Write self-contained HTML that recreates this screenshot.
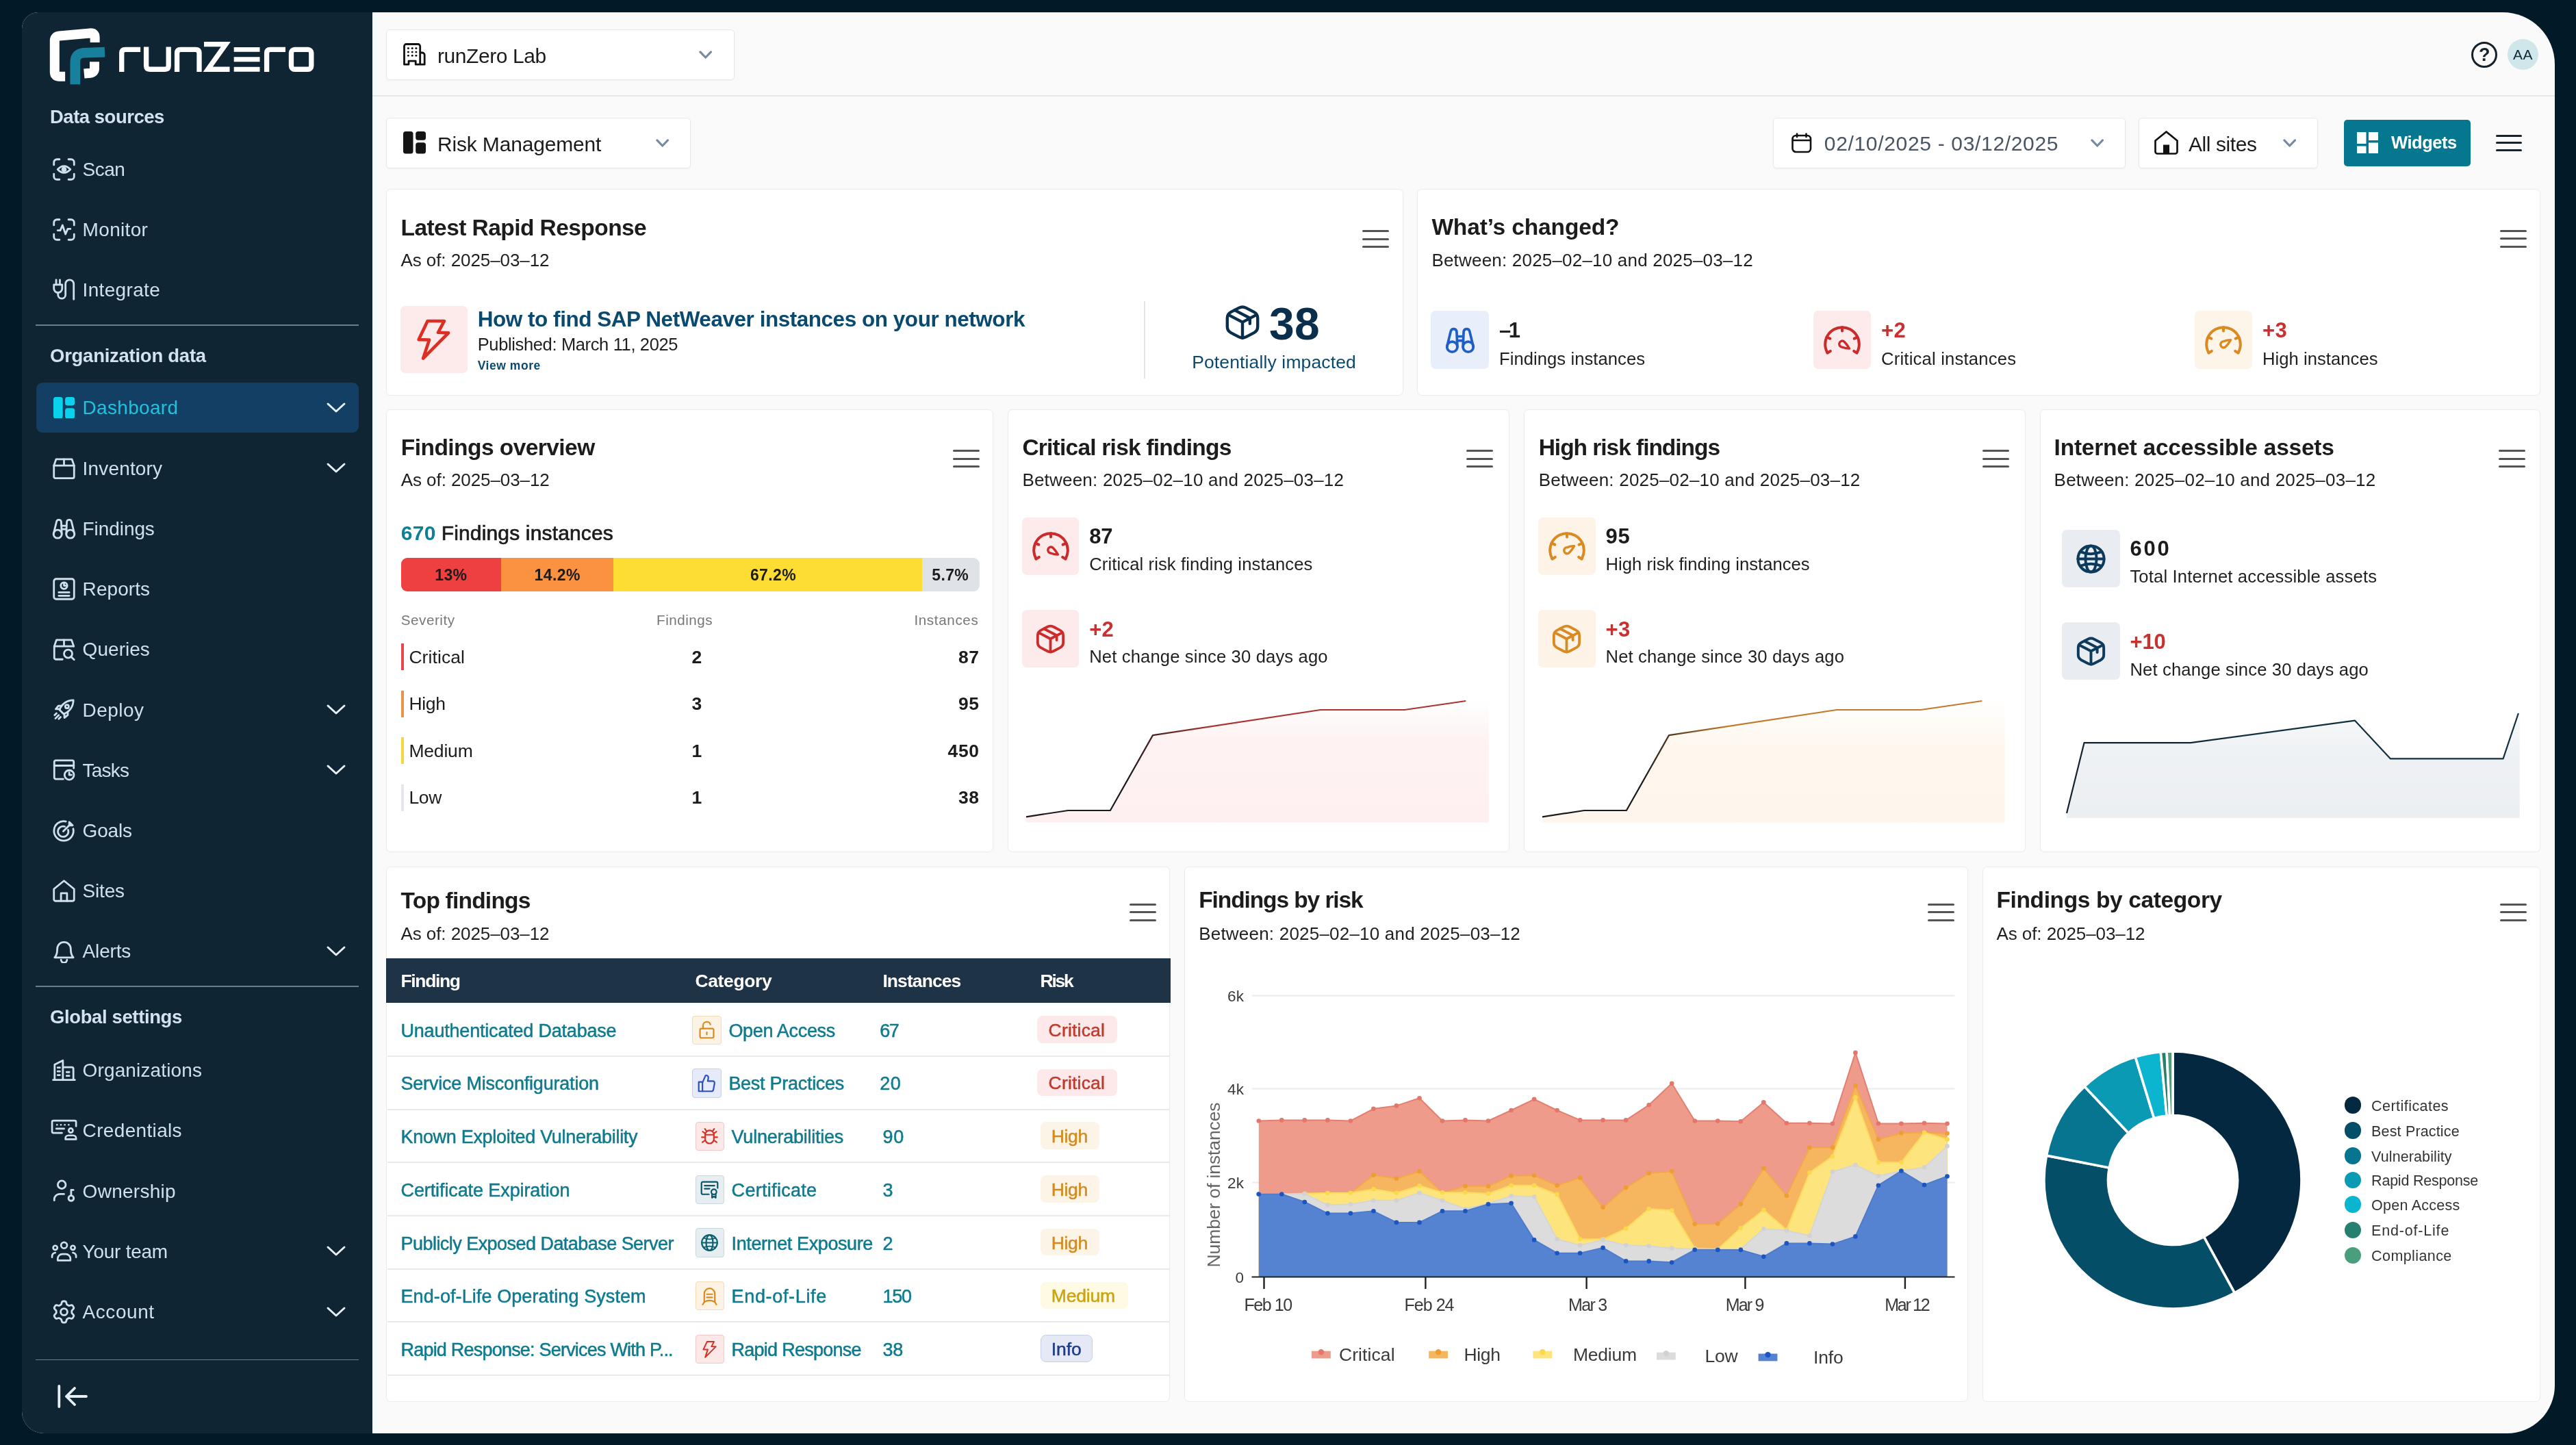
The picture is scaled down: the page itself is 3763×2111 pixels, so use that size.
<!DOCTYPE html>
<html><head><meta charset="utf-8"><title>runZero</title>
<style>
html,body{margin:0;padding:0}
body{width:3763px;height:2111px;background:#021a27;overflow:hidden;position:relative;font-family:"Liberation Sans",sans-serif}
.t{position:absolute;white-space:nowrap}
.b{position:absolute;box-sizing:border-box}
#win{position:absolute;left:32px;top:17.5px;width:3700px;height:2076px;border-radius:24px 76px 70px 32px;overflow:hidden;background:#fafafa}
#in{position:absolute;left:-32px;top:-17.5px;width:3763px;height:2111px;will-change:transform}
.card{position:absolute;box-sizing:border-box;background:#fff;border:1.7px solid #ececec;border-radius:7px;box-shadow:0 0 2px rgba(0,0,0,.03)}
.dd{position:absolute;box-sizing:border-box;background:#fff;border:1.5px solid #e6e7ea;border-radius:5px;box-shadow:0 1px 2px rgba(0,0,0,.04)}
</style></head><body><div id="win"><div id="in">
<div class="b" style="left:32.0px;top:17.0px;width:512.0px;height:2080.0px;background:#0f2533;"></div>
<svg class="b" style="left:60.0px;top:30.0px;" width="420.0" height="110.0" viewBox="0 0 2576 675"><g fill="none" stroke-linejoin="round"><path d="M215 502H162Q121 502 121 461V180Q121 142 162 138L438 113Q482 109 482 150V196" stroke="#fff" stroke-width="86"/><path d="M385 476L440 471Q478 467 478 430V370" stroke="#fff" stroke-width="86"/><path d="M305 572V372Q305 296 380 290L570 283" stroke="#17809c" stroke-width="90"/></g><g fill="none" stroke="#fff" stroke-width="45" stroke-linejoin="round"><path d="M722 460V292Q722 260 754 260H890"/><path d="M942 237V405Q942 437 974 437H1110Q1142 437 1142 405V237"/><path d="M1218 460V292Q1218 260 1250 260H1385Q1417 260 1417 292V460"/><path d="M1460 212H1655L1495 437H1690" stroke-linejoin="miter"/><path d="M1728 260H1960M1728 348H1960M1728 437H1960" stroke-width="42"/><path d="M2022 460V292Q2022 260 2054 260H2190"/><rect x="2242" y="260" width="180" height="177" rx="30"/></g></svg>
<div class="t" style="left:73.0px;top:156.7px;font-size:27.50px;line-height:27.50px;font-weight:bold;color:#d3e2ee;letter-spacing:-0.49px;">Data sources</div>
<div class="t" style="left:73.0px;top:505.7px;font-size:27.50px;line-height:27.50px;font-weight:bold;color:#d3e2ee;letter-spacing:-0.26px;">Organization data</div>
<div class="t" style="left:73.0px;top:1471.7px;font-size:27.50px;line-height:27.50px;font-weight:bold;color:#d3e2ee;letter-spacing:-0.38px;">Global settings</div>
<div class="b" style="left:52.0px;top:474.3px;width:471.5px;height:1.5px;background:#647f8e;"></div>
<div class="b" style="left:52.0px;top:1440.3px;width:471.5px;height:1.5px;background:#647f8e;"></div>
<div class="b" style="left:52.0px;top:1985.8px;width:471.5px;height:1.5px;background:#647f8e;"></div>
<div class="b" style="left:52.6px;top:559.3px;width:471.0px;height:72.6px;background:#123f63;border-radius:9px;"></div>
<svg class="b" style="left:75.7px;top:229.5px;color:#cfe0ec;" width="35.0" height="35.0" viewBox="0 0 32 32"><g fill="none" stroke="#cfe0ec" stroke-width="2.55" stroke-linecap="round" stroke-linejoin="round"><path d="M2.5 10V6.5a4 4 0 0 1 4-4H10"/><path d="M22 2.5h3.5a4 4 0 0 1 4 4V10"/><path d="M29.5 22v3.5a4 4 0 0 1-4 4H22"/><path d="M10 29.5H6.5a4 4 0 0 1-4-4V22"/><path d="M7.5 16Q16 7 24.5 16Q16 25 7.5 16Z"/><circle cx="16" cy="16" r="2.2" fill="currentColor"/></g></svg>
<div class="t" style="left:120.6px;top:233.9px;font-size:28.00px;line-height:28.00px;color:#cfe0ec;letter-spacing:-0.53px;">Scan</div>
<svg class="b" style="left:75.7px;top:317.5px;color:#cfe0ec;" width="35.0" height="35.0" viewBox="0 0 32 32"><g fill="none" stroke="#cfe0ec" stroke-width="2.55" stroke-linecap="round" stroke-linejoin="round"><path d="M2.5 10V6.5a4 4 0 0 1 4-4H10"/><path d="M22 2.5h3.5a4 4 0 0 1 4 4V10"/><path d="M29.5 22v3.5a4 4 0 0 1-4 4H22"/><path d="M10 29.5H6.5a4 4 0 0 1-4-4V22"/><path d="M7.5 17H11l3-7 4 12 3-7h3.5"/></g></svg>
<div class="t" style="left:120.6px;top:321.9px;font-size:28.00px;line-height:28.00px;color:#cfe0ec;letter-spacing:0.33px;">Monitor</div>
<svg class="b" style="left:75.7px;top:405.3px;color:#cfe0ec;" width="35.0" height="35.0" viewBox="0 0 32 32"><g fill="none" stroke="#cfe0ec" stroke-width="2.55" stroke-linecap="round" stroke-linejoin="round"><path d="M2.5 10h11v5a5.5 5.5 0 0 1-11 0z"/><path d="M5.5 3.5V10M10.5 3.5V10"/><path d="M8 20.5v3a5 5 0 0 0 10 0V9a5.5 5.5 0 0 1 11 0v20.5"/></g></svg>
<div class="t" style="left:120.6px;top:409.7px;font-size:28.00px;line-height:28.00px;color:#cfe0ec;letter-spacing:0.33px;">Integrate</div>
<svg class="b" style="left:77.7px;top:579.9px;" width="31.2" height="31.6" viewBox="0 0 31.200 31.600"><g fill="#0ad1ec"><rect x="0" y="0" width="13.700" height="31.600" rx="3.500"/><rect x="17.100" y="0" width="14.100" height="12.400" rx="3.500"/><rect x="17.100" y="16.200" width="14.100" height="15.400" rx="3.500"/></g></svg>
<div class="t" style="left:120.6px;top:582.3px;font-size:28.00px;line-height:28.00px;color:#1fc3de;letter-spacing:0.31px;">Dashboard</div>
<svg class="b" style="left:474.5px;top:578.7px;color:#e6eff5;" width="32.0" height="32.0" viewBox="0 0 32 32"><g fill="none" stroke="#e6eff5" stroke-width="3.00" stroke-linecap="round" stroke-linejoin="round"><path d="M4 11l12 11 12-11"/></g></svg>
<svg class="b" style="left:75.7px;top:666.6px;color:#cfe0ec;" width="35.0" height="35.0" viewBox="0 0 32 32"><g fill="none" stroke="#cfe0ec" stroke-width="2.55" stroke-linecap="round" stroke-linejoin="round"><path d="M2.5 12l3-8.5h21l3 8.5v15a2 2 0 0 1-2 2h-23a2 2 0 0 1-2-2z"/><path d="M2.5 12h27M16 3.5V12"/></g></svg>
<div class="t" style="left:120.6px;top:671.0px;font-size:28.00px;line-height:28.00px;color:#cfe0ec;letter-spacing:0.16px;">Inventory</div>
<svg class="b" style="left:474.5px;top:667.4px;color:#e6eff5;" width="32.0" height="32.0" viewBox="0 0 32 32"><g fill="none" stroke="#e6eff5" stroke-width="3.00" stroke-linecap="round" stroke-linejoin="round"><path d="M4 11l12 11 12-11"/></g></svg>
<svg class="b" style="left:75.7px;top:754.5px;color:#cfe0ec;" width="35.0" height="35.0" viewBox="0 0 32 32"><g fill="none" stroke="#cfe0ec" stroke-width="2.55" stroke-linecap="round" stroke-linejoin="round"><circle cx="7.5" cy="23" r="5.5"/><circle cx="24.5" cy="23" r="5.5"/><path d="M2 23L6 6.5a3.2 3.2 0 0 1 6.300 0.500L13 23M30 23L26 6.500a3.200 3.200 0 0 0-6.300 0.500L19 23"/><path d="M12.800 12h6.400M12.900 16.500h6.200"/></g></svg>
<div class="t" style="left:120.6px;top:758.9px;font-size:28.00px;line-height:28.00px;color:#cfe0ec;letter-spacing:-0.08px;">Findings</div>
<svg class="b" style="left:75.7px;top:842.7px;color:#cfe0ec;" width="35.0" height="35.0" viewBox="0 0 32 32"><g fill="none" stroke="#cfe0ec" stroke-width="2.55" stroke-linecap="round" stroke-linejoin="round"><rect x="2.500" y="2.500" width="27" height="27" rx="3"/><circle cx="16" cy="11.500" r="4.300"/><path d="M16 9v2.500h2.500M9 20.500h14M9 25h14"/></g></svg>
<div class="t" style="left:120.6px;top:847.1px;font-size:28.00px;line-height:28.00px;color:#cfe0ec;letter-spacing:0.08px;">Reports</div>
<svg class="b" style="left:75.7px;top:930.9px;color:#cfe0ec;" width="35.0" height="35.0" viewBox="0 0 32 32"><g fill="none" stroke="#cfe0ec" stroke-width="2.55" stroke-linecap="round" stroke-linejoin="round"><path d="M14 29.500H5a2 2 0 0 1-2-2V12l3-8.500h20l3 8.500"/><path d="M3 12h26M16 3.500V12"/><circle cx="21.500" cy="22" r="5.500"/><path d="M25.500 26l4 4"/></g></svg>
<div class="t" style="left:120.6px;top:935.3px;font-size:28.00px;line-height:28.00px;color:#cfe0ec;letter-spacing:0.04px;">Queries</div>
<svg class="b" style="left:75.7px;top:1019.1px;color:#cfe0ec;" width="35.0" height="35.0" viewBox="0 0 32 32"><g fill="none" stroke="#cfe0ec" stroke-width="2.55" stroke-linecap="round" stroke-linejoin="round"><path d="M28.500 3.500C20 3.500 13 8.500 10 16.500l5.500 5.500C23.500 19 28.500 12 28.500 3.500z"/><circle cx="20" cy="12" r="2.300"/><path d="M10.500 15.500H5l3.500-4.500h4.500M16.500 21.500V27l4.500-3.500v-4.500"/><path d="M6 21l-2.500 2.500M9 23.500L4.500 28M11.500 26L9 28.500"/></g></svg>
<div class="t" style="left:120.6px;top:1023.5px;font-size:28.00px;line-height:28.00px;color:#cfe0ec;letter-spacing:0.47px;">Deploy</div>
<svg class="b" style="left:474.5px;top:1019.9px;color:#e6eff5;" width="32.0" height="32.0" viewBox="0 0 32 32"><g fill="none" stroke="#e6eff5" stroke-width="3.00" stroke-linecap="round" stroke-linejoin="round"><path d="M4 11l12 11 12-11"/></g></svg>
<svg class="b" style="left:75.7px;top:1107.3px;color:#cfe0ec;" width="35.0" height="35.0" viewBox="0 0 32 32"><g fill="none" stroke="#cfe0ec" stroke-width="2.55" stroke-linecap="round" stroke-linejoin="round"><path d="M15 28.500H5a2 2 0 0 1-2-2V5.500a2 2 0 0 1 2-2h22a2 2 0 0 1 2 2V14"/><path d="M3 10.500h26"/><circle cx="23" cy="23" r="6.300"/><path d="M23 19.800V23h3"/></g></svg>
<div class="t" style="left:120.6px;top:1111.7px;font-size:28.00px;line-height:28.00px;color:#cfe0ec;letter-spacing:-0.81px;">Tasks</div>
<svg class="b" style="left:474.5px;top:1108.1px;color:#e6eff5;" width="32.0" height="32.0" viewBox="0 0 32 32"><g fill="none" stroke="#e6eff5" stroke-width="3.00" stroke-linecap="round" stroke-linejoin="round"><path d="M4 11l12 11 12-11"/></g></svg>
<svg class="b" style="left:75.7px;top:1195.5px;color:#cfe0ec;" width="35.0" height="35.0" viewBox="0 0 32 32"><g fill="none" stroke="#cfe0ec" stroke-width="2.55" stroke-linecap="round" stroke-linejoin="round"><path d="M28.300 13.500A13 13 0 1 1 18.500 3.700"/><path d="M21.500 15A7 7 0 1 1 17 10.500"/><path d="M15 17l8-8M23 9V4.500l4.500 4.500zM23 9h4.500" /></g></svg>
<div class="t" style="left:120.6px;top:1199.9px;font-size:28.00px;line-height:28.00px;color:#cfe0ec;letter-spacing:-0.17px;">Goals</div>
<svg class="b" style="left:75.7px;top:1283.7px;color:#cfe0ec;" width="35.0" height="35.0" viewBox="0 0 32 32"><g fill="none" stroke="#cfe0ec" stroke-width="2.55" stroke-linecap="round" stroke-linejoin="round"><path d="M2.500 13.500L16 2.500l13.500 11v14a2 2 0 0 1-2 2h-23a2 2 0 0 1-2-2z"/><path d="M12 29.500V19h8v10.500"/></g></svg>
<div class="t" style="left:120.6px;top:1288.1px;font-size:28.00px;line-height:28.00px;color:#cfe0ec;letter-spacing:-0.19px;">Sites</div>
<svg class="b" style="left:75.7px;top:1371.9px;color:#cfe0ec;" width="35.0" height="35.0" viewBox="0 0 32 32"><g fill="none" stroke="#cfe0ec" stroke-width="2.55" stroke-linecap="round" stroke-linejoin="round"><path d="M3.500 24.500c3-3 3.500-6 3.500-11.500a9 9 0 0 1 18 0c0 5.500 0.500 8.500 3.500 11.500z"/><path d="M12 27.500a4 4 0 0 0 8 0"/></g></svg>
<div class="t" style="left:120.6px;top:1376.3px;font-size:28.00px;line-height:28.00px;color:#cfe0ec;letter-spacing:-0.16px;">Alerts</div>
<svg class="b" style="left:474.5px;top:1372.7px;color:#e6eff5;" width="32.0" height="32.0" viewBox="0 0 32 32"><g fill="none" stroke="#e6eff5" stroke-width="3.00" stroke-linecap="round" stroke-linejoin="round"><path d="M4 11l12 11 12-11"/></g></svg>
<svg class="b" style="left:75.7px;top:1545.9px;color:#cfe0ec;" width="35.0" height="35.0" viewBox="0 0 32 32"><g fill="none" stroke="#cfe0ec" stroke-width="2.55" stroke-linecap="round" stroke-linejoin="round"><path d="M3.500 29V8.500L14.500 3v26M14.500 12h12a2 2 0 0 1 2 2v15M1.500 29h29"/><path d="M7.500 12.500h3M7.500 17.500h3M7.500 22.500h3M19.500 18.500h3.500M19.500 23.500h3.500"/></g></svg>
<div class="t" style="left:120.6px;top:1550.3px;font-size:28.00px;line-height:28.00px;color:#cfe0ec;letter-spacing:0.13px;">Organizations</div>
<svg class="b" style="left:73.6px;top:1633.9px;color:#cfe0ec;" width="39.2" height="33.0" viewBox="0 0 38 32"><g fill="none" stroke="#cfe0ec" stroke-width="2.60" stroke-linecap="round" stroke-linejoin="round"><path d="M16 20.500H4a2 2 0 0 1-2-2V5a2 2 0 0 1 2-2h30a2 2 0 0 1 2 2v6"/><path d="M9 9h.1M14.500 9h.1M20 9h.1M25.500 9h.1M8 14.500h11"/><circle cx="28.500" cy="17" r="3"/><path d="M21 29.500v-1.500a4 4 0 0 1 4-4h7a4 4 0 0 1 4 4v1.500z"/></g></svg>
<div class="t" style="left:120.6px;top:1637.8px;font-size:28.00px;line-height:28.00px;color:#cfe0ec;letter-spacing:0.34px;">Credentials</div>
<svg class="b" style="left:75.7px;top:1722.3px;color:#cfe0ec;" width="35.0" height="35.0" viewBox="0 0 32 32"><g fill="none" stroke="#cfe0ec" stroke-width="2.55" stroke-linecap="round" stroke-linejoin="round"><circle cx="13" cy="8" r="5.300"/><path d="M3 29v-1.500a7 7 0 0 1 7-7h6"/><circle cx="25.500" cy="26" r="3.500"/><path d="M25.500 22.500V15h3"/></g></svg>
<div class="t" style="left:120.6px;top:1726.7px;font-size:28.00px;line-height:28.00px;color:#cfe0ec;letter-spacing:0.28px;">Ownership</div>
<svg class="b" style="left:73.6px;top:1811.0px;color:#cfe0ec;" width="39.2" height="33.0" viewBox="0 0 38 32"><g fill="none" stroke="#cfe0ec" stroke-width="2.60" stroke-linecap="round" stroke-linejoin="round"><circle cx="19" cy="8" r="4.300"/><path d="M10 29.500V27a6.500 6.500 0 0 1 6.500-6.500h5a6.500 6.500 0 0 1 6.500 6.500v2.500z"/><circle cx="6.500" cy="11.500" r="3"/><path d="M2 25v-1.500a5 5 0 0 1 4.500-5"/><circle cx="31.500" cy="11.500" r="3"/><path d="M36 25v-1.500a5 5 0 0 0-4.500-5"/></g></svg>
<div class="t" style="left:120.6px;top:1814.9px;font-size:28.00px;line-height:28.00px;color:#cfe0ec;letter-spacing:-0.26px;">Your team</div>
<svg class="b" style="left:474.5px;top:1811.3px;color:#e6eff5;" width="32.0" height="32.0" viewBox="0 0 32 32"><g fill="none" stroke="#e6eff5" stroke-width="3.00" stroke-linecap="round" stroke-linejoin="round"><path d="M4 11l12 11 12-11"/></g></svg>
<svg class="b" style="left:75.7px;top:1898.7px;color:#cfe0ec;" width="35.0" height="35.0" viewBox="0 0 32 32"><g fill="none" stroke="#cfe0ec" stroke-width="2.55" stroke-linecap="round" stroke-linejoin="round"><path d="M28.30 23.10L27.81 23.89L27.27 24.64L26.23 24.97L24.70 24.70L23.25 24.26L22.33 24.25L21.78 24.65L21.20 25.01L20.60 25.33L19.98 25.61L19.53 26.41L19.18 27.88L18.65 29.35L17.85 30.08L16.93 30.17L16.00 30.20L15.07 30.17L14.15 30.08L13.35 29.35L12.82 27.88L12.47 26.41L12.02 25.61L11.40 25.33L10.80 25.01L10.22 24.65L9.67 24.25L8.75 24.26L7.30 24.70L5.77 24.97L4.73 24.64L4.19 23.89L3.70 23.10L3.26 22.28L2.88 21.43L3.11 20.37L4.12 19.18L5.22 18.14L5.69 17.36L5.62 16.68L5.60 16.00L5.62 15.32L5.69 14.64L5.22 13.86L4.12 12.82L3.11 11.63L2.88 10.57L3.26 9.72L3.70 8.90L4.19 8.11L4.73 7.36L5.77 7.03L7.30 7.30L8.75 7.74L9.67 7.75L10.22 7.35L10.80 6.99L11.40 6.67L12.02 6.39L12.47 5.59L12.82 4.12L13.35 2.65L14.15 1.92L15.07 1.83L16.00 1.80L16.93 1.83L17.85 1.92L18.65 2.65L19.18 4.12L19.53 5.59L19.98 6.39L20.60 6.67L21.20 6.99L21.78 7.35L22.33 7.75L23.25 7.74L24.70 7.30L26.23 7.03L27.27 7.36L27.81 8.11L28.30 8.90L28.74 9.72L29.12 10.57L28.89 11.63L27.88 12.82L26.78 13.86L26.31 14.64L26.38 15.32L26.40 16.00L26.38 16.68L26.31 17.36L26.78 18.14L27.88 19.18L28.89 20.37L29.12 21.43L28.74 22.28z"/><circle cx="16" cy="16" r="4.500"/></g></svg>
<div class="t" style="left:120.6px;top:1903.1px;font-size:28.00px;line-height:28.00px;color:#cfe0ec;letter-spacing:0.55px;">Account</div>
<svg class="b" style="left:474.5px;top:1899.5px;color:#e6eff5;" width="32.0" height="32.0" viewBox="0 0 32 32"><g fill="none" stroke="#e6eff5" stroke-width="3.00" stroke-linecap="round" stroke-linejoin="round"><path d="M4 11l12 11 12-11"/></g></svg>
<svg class="b" style="left:80.0px;top:2020.0px;" width="52.0" height="40.0" viewBox="0 0 52 40"><path d="M6.300 5V35M46 20H17M29 8L17 20L29 32" fill="none" stroke="#e6eff5" stroke-width="3.800" stroke-linecap="round" stroke-linejoin="round"/></svg>
<div class="b" style="left:544.0px;top:17.0px;width:9.0px;height:2080.0px;background:linear-gradient(to right,#eefbfe,#fafafa);"></div>
<div class="b" style="left:544.0px;top:138.5px;width:3190.0px;height:2.0px;background:#e6e6e8;"></div>
<div class="dd" style="left:564.0px;top:43.0px;width:508.5px;height:73.5px"></div>
<svg class="b" style="left:588.9px;top:63.3px;" width="32.7" height="32.7" viewBox="0 0 32.700 32.700"><g fill="none" stroke="#111" stroke-width="2.800" stroke-linejoin="round" stroke-linecap="round"><path d="M8 31.200H1.500V4.500a3 3 0 0 1 3-3H21.700a3 3 0 0 1 3 3V31.200M18.200 31.200H31.200V17.500a3.500 3.500 0 0 0-3.500-3.500H24.700M8 31.200V26.200H18.200V31.200"/></g><g fill="#111"><circle cx="7.4" cy="7.4" r="1.500"/><circle cx="7.4" cy="12.9" r="1.500"/><circle cx="7.4" cy="18.3" r="1.500"/><circle cx="13.2" cy="7.4" r="1.500"/><circle cx="13.2" cy="12.9" r="1.500"/><circle cx="13.2" cy="18.3" r="1.500"/><circle cx="18.9" cy="7.4" r="1.500"/><circle cx="18.9" cy="12.9" r="1.500"/><circle cx="18.9" cy="18.3" r="1.500"/></g></svg>
<div class="t" style="left:639.0px;top:67.0px;font-size:30.00px;line-height:30.00px;color:#1b1b1b;letter-spacing:-0.42px;">runZero Lab</div>
<svg class="b" style="left:1021.3px;top:73.8px;" width="19.4" height="12.4" viewBox="0 0 19.400 12.400"><path d="M1.900 1.900L9.700 10L17.500 1.900" fill="none" stroke="#7888a0" stroke-width="3.100" stroke-linecap="round" stroke-linejoin="round"/></svg>
<div class="dd" style="left:564.0px;top:172.0px;width:445.0px;height:73.5px"></div>
<svg class="b" style="left:588.8px;top:192.2px;" width="33.0" height="32.5" viewBox="0 0 33 32.500"><g fill="#141414"><rect x="0" y="0" width="14.500" height="32.500" rx="3.500"/><rect x="18.200" y="0" width="14.800" height="12.700" rx="3.500"/><rect x="18.200" y="16.300" width="14.800" height="16.200" rx="3.500"/></g></svg>
<div class="t" style="left:639.0px;top:196.1px;font-size:30.00px;line-height:30.00px;color:#1b1b1b;letter-spacing:-0.17px;">Risk Management</div>
<svg class="b" style="left:958.3px;top:202.6px;" width="19.4" height="12.4" viewBox="0 0 19.400 12.400"><path d="M1.900 1.900L9.700 10L17.500 1.900" fill="none" stroke="#7888a0" stroke-width="3.100" stroke-linecap="round" stroke-linejoin="round"/></svg>
<div class="dd" style="left:2590.0px;top:172.0px;width:515.0px;height:73.5px"></div>
<svg class="b" style="left:2617.0px;top:194.0px;" width="30.0" height="30.0" viewBox="0 0 30 30"><g fill="none" stroke="#111" stroke-width="2.600" stroke-linecap="round"><rect x="1.500" y="4" width="26.500" height="24" rx="5"/><path d="M2 11h25.500M8 1.500V6M21.500 1.500V6"/></g></svg>
<div class="t" style="left:2664.8px;top:194.9px;font-size:30.00px;line-height:30.00px;color:#4a5563;letter-spacing:0.67px;">02/10/2025 - 03/12/2025</div>
<svg class="b" style="left:3054.0px;top:203.3px;" width="19.4" height="12.4" viewBox="0 0 19.400 12.400"><path d="M1.900 1.900L9.700 10L17.500 1.900" fill="none" stroke="#7888a0" stroke-width="3.100" stroke-linecap="round" stroke-linejoin="round"/></svg>
<div class="dd" style="left:3123.5px;top:172.0px;width:262.0px;height:73.5px"></div>
<svg class="b" style="left:3146.0px;top:190.0px;" width="37.0" height="37.0" viewBox="0 0 37 37"><path d="M2.500 15.500L18.500 2.500l16 13v16a3 3 0 0 1-3 3h-26a3 3 0 0 1-3-3z" fill="none" stroke="#111" stroke-width="2.700" stroke-linejoin="round"/><rect x="14" y="21.500" width="9" height="13" fill="#111"/></svg>
<div class="t" style="left:3197.0px;top:196.1px;font-size:30.00px;line-height:30.00px;color:#1b1b1b;letter-spacing:-0.42px;">All sites</div>
<svg class="b" style="left:3334.8px;top:202.6px;" width="19.4" height="12.4" viewBox="0 0 19.400 12.400"><path d="M1.900 1.900L9.700 10L17.500 1.900" fill="none" stroke="#7888a0" stroke-width="3.100" stroke-linecap="round" stroke-linejoin="round"/></svg>
<div class="b" style="left:3424.0px;top:174.5px;width:185.0px;height:68.0px;background:#05788f;border-radius:5px;"></div>
<svg class="b" style="left:3442.5px;top:193.0px;" width="31.5" height="31.0" viewBox="0 0 31.500 31"><g fill="#fff"><rect x="0" y="0" width="13.500" height="17"/><rect x="17" y="0" width="14.500" height="12"/><rect x="0" y="20.500" width="13.500" height="10.500"/><rect x="17" y="15.500" width="14.500" height="15.500"/></g></svg>
<div class="t" style="left:3493.0px;top:195.9px;font-size:25.50px;line-height:25.50px;font-weight:bold;color:#fff;letter-spacing:-0.45px;">Widgets</div>
<div class="b" style="left:3645.5px;top:196.5px;width:38.0px;height:3.2px;background:#18222c;border-radius:1.500px;"></div>
<div class="b" style="left:3645.5px;top:207.3px;width:38.0px;height:3.2px;background:#18222c;border-radius:1.500px;"></div>
<div class="b" style="left:3645.5px;top:218.1px;width:38.0px;height:3.2px;background:#18222c;border-radius:1.500px;"></div>
<svg class="b" style="left:3608.0px;top:58.5px;" width="42.0" height="42.0" viewBox="0 0 42 42"><circle cx="21" cy="21" r="17.500" fill="none" stroke="#15212b" stroke-width="3"/></svg>
<div class="t" style="left:3621.1px;top:66.6px;font-size:27.00px;line-height:27.00px;font-weight:bold;color:#15212b;letter-spacing:0.00px;">?</div>
<div class="b" style="left:3662.5px;top:56.5px;width:45.5px;height:45.5px;background:#cfe6ea;border-radius:50%;"></div>
<div class="t" style="left:3671.1px;top:69.2px;font-size:21.00px;line-height:21.00px;color:#0f2a3a;letter-spacing:0.30px;">AA</div>
<div class="card" style="left:563.8px;top:276.0px;width:1486.2px;height:301.5px"></div>
<div class="t" style="left:585.5px;top:316.4px;font-size:33.50px;line-height:33.50px;font-weight:bold;color:#1c1c1c;letter-spacing:-0.56px;">Latest Rapid Response</div>
<div class="t" style="left:585.5px;top:366.8px;font-size:26.00px;line-height:26.00px;color:#1f1f1f;letter-spacing:-0.08px;">As of: 2025–03–12</div>
<div class="b" style="left:1990.0px;top:336.3px;width:39.0px;height:3.0px;background:#555;border-radius:1.500px;"></div>
<div class="b" style="left:1990.0px;top:347.7px;width:39.0px;height:3.0px;background:#555;border-radius:1.500px;"></div>
<div class="b" style="left:1990.0px;top:359.1px;width:39.0px;height:3.0px;background:#555;border-radius:1.500px;"></div>
<div class="b" style="left:584.7px;top:447.4px;width:98.0px;height:98.0px;background:#fdeaea;border-radius:7px;"></div>
<svg class="b" style="left:601.3px;top:464.0px;color:#dc2f24;" width="64.6" height="64.6" viewBox="0 0 32 32"><g fill="none" stroke="#dc2f24" stroke-width="2.30" stroke-linecap="round" stroke-linejoin="round"><path d="M11.7 2.5H23.7L19.3 10.8L26.8 11.1L8.5 29.5L12.9 16.1L5.3 15.9z"/></g></svg>
<div class="t" style="left:697.7px;top:450.8px;font-size:31.50px;line-height:31.50px;font-weight:bold;color:#0b4a6f;letter-spacing:-0.47px;">How to find SAP NetWeaver instances on your network</div>
<div class="t" style="left:697.7px;top:491.0px;font-size:25.50px;line-height:25.50px;color:#1f1f1f;letter-spacing:-0.36px;">Published: March 11, 2025</div>
<div class="t" style="left:697.7px;top:525.5px;font-size:17.50px;line-height:17.50px;font-weight:bold;color:#0b4a6f;letter-spacing:0.55px;">View more</div>
<div class="b" style="left:1671.0px;top:439.7px;width:2.0px;height:113.0px;background:#e4e4e4;"></div>
<svg class="b" style="left:1787.0px;top:443.0px;color:#0a2f4d;" width="56.0" height="56.0" viewBox="0 0 32 32"><g fill="none" stroke="#0a2f4d" stroke-width="2.50" stroke-linecap="round" stroke-linejoin="round"><path d="M12.95 3.91Q16.00 2.30 19.05 3.91L25.65 7.39Q28.70 9.00 28.70 12.36L28.70 19.64Q28.70 23.00 25.65 24.61L19.05 28.09Q16.00 29.70 12.95 28.09L6.35 24.61Q3.30 23.00 3.30 19.64L3.30 12.36Q3.30 9.00 6.35 7.39z"/><path d="M4.500 9.800L16 15.800 27.500 9.800M16 15.800v13.200M9.500 5.800l12.700 6.600v4.600"/></g></svg>
<div class="t" style="left:1854.0px;top:439.6px;font-size:66.00px;line-height:66.00px;font-weight:bold;color:#0a2f4d;letter-spacing:0.29px;">38</div>
<div class="t" style="left:1741.2px;top:516.3px;font-size:26.50px;line-height:26.50px;color:#0b4a6f;letter-spacing:0.13px;">Potentially impacted</div>
<div class="card" style="left:2070.2px;top:276.0px;width:1640.8px;height:301.5px"></div>
<div class="t" style="left:2091.4px;top:315.2px;font-size:33.50px;line-height:33.50px;font-weight:bold;color:#1c1c1c;letter-spacing:-0.14px;">What’s changed?</div>
<div class="t" style="left:2091.4px;top:367.1px;font-size:26.00px;line-height:26.00px;color:#1f1f1f;letter-spacing:0.20px;">Between: 2025–02–10 and 2025–03–12</div>
<div class="b" style="left:3651.8px;top:336.0px;width:39.0px;height:3.0px;background:#555;border-radius:1.500px;"></div>
<div class="b" style="left:3651.8px;top:347.4px;width:39.0px;height:3.0px;background:#555;border-radius:1.500px;"></div>
<div class="b" style="left:3651.8px;top:358.8px;width:39.0px;height:3.0px;background:#555;border-radius:1.500px;"></div>
<div class="b" style="left:2090.3px;top:454.4px;width:84.4px;height:84.4px;background:#e9eefb;border-radius:7px;"></div>
<svg class="b" style="left:2110.5px;top:475.0px;color:#1f5fc4;" width="44.0" height="44.0" viewBox="0 0 32 32"><g fill="none" stroke="#1f5fc4" stroke-width="2.70" stroke-linecap="round" stroke-linejoin="round"><circle cx="7.5" cy="23" r="5.5"/><circle cx="24.5" cy="23" r="5.5"/><path d="M2 23L6 6.5a3.2 3.2 0 0 1 6.300 0.500L13 23M30 23L26 6.500a3.200 3.200 0 0 0-6.300 0.500L19 23"/><path d="M12.800 12h6.400M12.900 16.500h6.200"/></g></svg>
<div class="t" style="left:2190.0px;top:466.7px;font-size:31.00px;line-height:31.00px;font-weight:bold;color:#222;letter-spacing:-3.49px;">–1</div>
<div class="t" style="left:2190.0px;top:511.5px;font-size:25.60px;line-height:25.60px;color:#1f1f1f;letter-spacing:0.06px;">Findings instances</div>
<div class="b" style="left:2648.5px;top:454.4px;width:84.4px;height:84.4px;background:#fdeaea;border-radius:7px;"></div>
<svg class="b" style="left:2660.7px;top:466.6px;" width="60.0" height="60.0" viewBox="0 0 60 60"><g fill="none" stroke="#cc2b2b" stroke-width="4" stroke-linecap="round" stroke-linejoin="round"><path d="M8.500 48.400A24.800 24.800 0 1 1 51.500 48.400"/><path d="M8.500 48.400l4.300-2.500M51.500 48.400l-4.300-2.500M30 11.200v5.200M7.600 25.600l4.700 2M52.400 25.600l-4.700 2"/><path d="M40.400 42.100Q36 34.500 32 31.300A4.600 4.600 0 1 0 30.500 40.200Q35.500 42.300 40.400 42.100z" stroke-width="3.400"/></g></svg>
<div class="t" style="left:2748.0px;top:466.7px;font-size:31.00px;line-height:31.00px;font-weight:bold;color:#c93030;letter-spacing:0.33px;">+2</div>
<div class="t" style="left:2748.0px;top:511.5px;font-size:25.60px;line-height:25.60px;color:#1f1f1f;letter-spacing:0.21px;">Critical instances</div>
<div class="b" style="left:3205.7px;top:454.4px;width:84.4px;height:84.4px;background:#fdf4ea;border-radius:7px;"></div>
<svg class="b" style="left:3217.6px;top:466.6px;" width="60.0" height="60.0" viewBox="0 0 60 60"><g fill="none" stroke="#d98a21" stroke-width="4" stroke-linecap="round" stroke-linejoin="round"><path d="M8.500 48.400A24.800 24.800 0 1 1 51.500 48.400"/><path d="M8.500 48.400l4.300-2.500M51.500 48.400l-4.300-2.500M30 11.200v5.200M7.600 25.600l4.700 2M52.400 25.600l-4.700 2"/><path d="M40.600 29.600Q36 37.500 32 40.500A4.600 4.600 0 1 1 30.500 31.600Q35.500 29.500 40.600 29.600z" stroke-width="3.400"/></g></svg>
<div class="t" style="left:3305.0px;top:466.7px;font-size:31.00px;line-height:31.00px;font-weight:bold;color:#c93030;letter-spacing:0.33px;">+3</div>
<div class="t" style="left:3305.0px;top:511.5px;font-size:25.60px;line-height:25.60px;color:#1f1f1f;letter-spacing:0.05px;">High instances</div>
<div class="card" style="left:563.8px;top:598.0px;width:887.2px;height:646.8px"></div>
<div class="t" style="left:585.8px;top:636.7px;font-size:33.50px;line-height:33.50px;font-weight:bold;color:#1c1c1c;letter-spacing:-0.55px;">Findings overview</div>
<div class="t" style="left:585.8px;top:688.3px;font-size:26.00px;line-height:26.00px;color:#1f1f1f;letter-spacing:-0.08px;">As of: 2025–03–12</div>
<div class="b" style="left:1392.2px;top:657.2px;width:39.0px;height:3.0px;background:#555;border-radius:1.500px;"></div>
<div class="b" style="left:1392.2px;top:668.6px;width:39.0px;height:3.0px;background:#555;border-radius:1.500px;"></div>
<div class="b" style="left:1392.2px;top:680.0px;width:39.0px;height:3.0px;background:#555;border-radius:1.500px;"></div>
<div class="t" style="left:585.8px;top:764.0px;font-size:30.00px;line-height:30.00px;font-weight:bold;color:#0e7f96;letter-spacing:0.31px;">670</div>
<div class="t" style="left:644.7px;top:764.0px;font-size:30.00px;line-height:30.00px;color:#1c1c1c;letter-spacing:0.16px;-webkit-text-stroke:0.700px #1c1c1c;">Findings instances</div>
<div class="b" style="left:585.800px;top:815.400px;width:845.400px;height:48.600px;border-radius:9px;overflow:hidden;background:#dfe3e8"><div class="b" style="left:0;top:0;height:100%;width:146.100px;background:#ee4040"></div><div class="b" style="left:146.100px;top:0;height:100%;width:164.100px;background:#fb923f"></div><div class="b" style="left:310.200px;top:0;height:100%;width:451.300px;background:#fddc33"></div></div>
<div class="t" style="left:635.2px;top:828.7px;font-size:23.00px;line-height:23.00px;font-weight:bold;color:#1c1c1c;letter-spacing:0.40px;">13%</div>
<div class="t" style="left:780.6px;top:828.7px;font-size:23.00px;line-height:23.00px;font-weight:bold;color:#1c1c1c;letter-spacing:0.40px;">14.2%</div>
<div class="t" style="left:1095.9px;top:828.7px;font-size:23.00px;line-height:23.00px;font-weight:bold;color:#1c1c1c;letter-spacing:0.40px;">67.2%</div>
<div class="t" style="left:1361.2px;top:828.7px;font-size:23.00px;line-height:23.00px;font-weight:bold;color:#1c1c1c;letter-spacing:0.40px;">5.7%</div>
<div class="t" style="left:585.8px;top:895.7px;font-size:20.70px;line-height:20.70px;color:#777;letter-spacing:0.50px;">Severity</div>
<div class="t" style="left:959.1px;top:895.7px;font-size:20.70px;line-height:20.70px;color:#777;letter-spacing:0.48px;">Findings</div>
<div class="t" style="left:1335.4px;top:895.7px;font-size:20.70px;line-height:20.70px;color:#777;letter-spacing:0.61px;">Instances</div>
<div class="b" style="left:585.5px;top:940.1px;width:4.3px;height:39.0px;background:#e5484d;"></div>
<div class="t" style="left:597.4px;top:946.9px;font-size:26.50px;line-height:26.50px;color:#1c1c1c;letter-spacing:0.08px;">Critical</div>
<div class="t" style="left:1010.6px;top:946.9px;font-size:26.50px;line-height:26.50px;font-weight:bold;color:#1c1c1c;letter-spacing:0.00px;">2</div>
<div class="t" style="left:1399.9px;top:946.9px;font-size:26.50px;line-height:26.50px;font-weight:bold;color:#1c1c1c;letter-spacing:0.60px;">87</div>
<div class="b" style="left:585.5px;top:1008.6px;width:4.3px;height:39.0px;background:#e8934a;"></div>
<div class="t" style="left:597.4px;top:1015.4px;font-size:26.50px;line-height:26.50px;color:#1c1c1c;letter-spacing:-0.30px;">High</div>
<div class="t" style="left:1010.6px;top:1015.4px;font-size:26.50px;line-height:26.50px;font-weight:bold;color:#1c1c1c;letter-spacing:0.00px;">3</div>
<div class="t" style="left:1399.9px;top:1015.4px;font-size:26.50px;line-height:26.50px;font-weight:bold;color:#1c1c1c;letter-spacing:0.60px;">95</div>
<div class="b" style="left:585.5px;top:1077.1px;width:4.3px;height:39.0px;background:#f5d840;"></div>
<div class="t" style="left:597.4px;top:1083.9px;font-size:26.50px;line-height:26.50px;color:#1c1c1c;letter-spacing:-0.18px;">Medium</div>
<div class="t" style="left:1010.6px;top:1083.9px;font-size:26.50px;line-height:26.50px;font-weight:bold;color:#1c1c1c;letter-spacing:0.00px;">1</div>
<div class="t" style="left:1384.6px;top:1083.9px;font-size:26.50px;line-height:26.50px;font-weight:bold;color:#1c1c1c;letter-spacing:0.60px;">450</div>
<div class="b" style="left:585.5px;top:1145.6px;width:4.3px;height:39.0px;background:#e3e6ea;"></div>
<div class="t" style="left:597.4px;top:1152.4px;font-size:26.50px;line-height:26.50px;color:#1c1c1c;letter-spacing:-0.27px;">Low</div>
<div class="t" style="left:1010.6px;top:1152.4px;font-size:26.50px;line-height:26.50px;font-weight:bold;color:#1c1c1c;letter-spacing:0.00px;">1</div>
<div class="t" style="left:1399.9px;top:1152.4px;font-size:26.50px;line-height:26.50px;font-weight:bold;color:#1c1c1c;letter-spacing:0.60px;">38</div>
<div class="card" style="left:1471.6px;top:598.0px;width:733.4px;height:646.8px"></div>
<div class="t" style="left:1493.4px;top:636.7px;font-size:33.50px;line-height:33.50px;font-weight:bold;color:#1c1c1c;letter-spacing:-0.77px;">Critical risk findings</div>
<div class="t" style="left:1493.4px;top:688.3px;font-size:26.00px;line-height:26.00px;color:#1f1f1f;letter-spacing:0.21px;">Between: 2025–02–10 and 2025–03–12</div>
<div class="b" style="left:2141.7px;top:657.2px;width:39.0px;height:3.0px;background:#555;border-radius:1.500px;"></div>
<div class="b" style="left:2141.7px;top:668.6px;width:39.0px;height:3.0px;background:#555;border-radius:1.500px;"></div>
<div class="b" style="left:2141.7px;top:680.0px;width:39.0px;height:3.0px;background:#555;border-radius:1.500px;"></div>
<div class="b" style="left:1492.5px;top:756.0px;width:83.8px;height:84.4px;background:#fdeaea;border-radius:7px;"></div>
<svg class="b" style="left:1504.5px;top:768.2px;" width="60.0" height="60.0" viewBox="0 0 60 60"><g fill="none" stroke="#cc2b2b" stroke-width="4" stroke-linecap="round" stroke-linejoin="round"><path d="M8.500 48.400A24.800 24.800 0 1 1 51.500 48.400"/><path d="M8.500 48.400l4.300-2.500M51.500 48.400l-4.300-2.500M30 11.200v5.200M7.600 25.600l4.700 2M52.400 25.600l-4.700 2"/><path d="M40.400 42.100Q36 34.500 32 31.300A4.600 4.600 0 1 0 30.500 40.200Q35.500 42.300 40.400 42.100z" stroke-width="3.400"/></g></svg>
<div class="t" style="left:1591.2px;top:767.8px;font-size:31.00px;line-height:31.00px;font-weight:bold;color:#1c1c1c;letter-spacing:-0.09px;">87</div>
<div class="t" style="left:1591.2px;top:811.8px;font-size:25.60px;line-height:25.60px;color:#1f1f1f;letter-spacing:0.11px;">Critical risk finding instances</div>
<div class="b" style="left:1492.5px;top:891.4px;width:83.8px;height:84.0px;background:#fdeaea;border-radius:7px;"></div>
<svg class="b" style="left:1510.9px;top:909.9px;color:#cc2b2b;" width="47.0" height="47.0" viewBox="0 0 32 32"><g fill="none" stroke="#cc2b2b" stroke-width="2.60" stroke-linecap="round" stroke-linejoin="round"><path d="M12.95 3.91Q16.00 2.30 19.05 3.91L25.65 7.39Q28.70 9.00 28.70 12.36L28.70 19.64Q28.70 23.00 25.65 24.61L19.05 28.09Q16.00 29.70 12.95 28.09L6.35 24.61Q3.30 23.00 3.30 19.64L3.30 12.36Q3.30 9.00 6.35 7.39z"/><path d="M4.500 9.800L16 15.800 27.500 9.800M16 15.800v13.200M9.500 5.800l12.700 6.600v4.600"/></g></svg>
<div class="t" style="left:1591.2px;top:903.8px;font-size:31.00px;line-height:31.00px;font-weight:bold;color:#c93030;letter-spacing:0.33px;">+2</div>
<div class="t" style="left:1591.2px;top:947.2px;font-size:25.60px;line-height:25.60px;color:#1f1f1f;letter-spacing:0.15px;">Net change since 30 days ago</div>
<svg class="b" style="left:1494.5px;top:1017.6px;" width="683.7" height="187.6" viewBox="0 0 683.7 187.6"><defs><linearGradient id="g1f" x1="0" y1="0" x2="0" y2="1"><stop offset="0" stop-color="#ffffff"/><stop offset="0.350" stop-color="#fef0f0" stop-opacity="0.850"/><stop offset="1" stop-color="#fef0f0"/></linearGradient><linearGradient id="g1s" gradientUnits="userSpaceOnUse" x1="0" y1="0" x2="683.7" y2="0"><stop offset="0" stop-color="#1a1a1a"/><stop offset="0.22" stop-color="#1a1a1a"/><stop offset="0.400" stop-color="#ab3430"/><stop offset="1" stop-color="#ab3430"/></linearGradient></defs><path d="M4.0 175.3L65.2 166.0L126.9 166.0L189.0 56.1L433.9 19.0L556.8 19.0L646.3 6.0L679.7 6.0L679.7 183.6L4.0 183.6z" fill="url(#g1f)"/><path d="M4.0 175.3L65.2 166.0L126.9 166.0L189.0 56.1L433.9 19.0L556.8 19.0L646.3 6.0" fill="none" stroke="url(#g1s)" stroke-width="2.200" stroke-linejoin="round"/></svg>
<div class="card" style="left:2225.9px;top:598.0px;width:733.4px;height:646.8px"></div>
<div class="t" style="left:2247.7px;top:636.7px;font-size:33.50px;line-height:33.50px;font-weight:bold;color:#1c1c1c;letter-spacing:-1.03px;">High risk findings</div>
<div class="t" style="left:2247.7px;top:688.3px;font-size:26.00px;line-height:26.00px;color:#1f1f1f;letter-spacing:0.21px;">Between: 2025–02–10 and 2025–03–12</div>
<div class="b" style="left:2896.0px;top:657.2px;width:39.0px;height:3.0px;background:#555;border-radius:1.500px;"></div>
<div class="b" style="left:2896.0px;top:668.6px;width:39.0px;height:3.0px;background:#555;border-radius:1.500px;"></div>
<div class="b" style="left:2896.0px;top:680.0px;width:39.0px;height:3.0px;background:#555;border-radius:1.500px;"></div>
<div class="b" style="left:2246.8px;top:756.0px;width:83.8px;height:84.4px;background:#fdf3e6;border-radius:7px;"></div>
<svg class="b" style="left:2258.8px;top:768.2px;" width="60.0" height="60.0" viewBox="0 0 60 60"><g fill="none" stroke="#d98a21" stroke-width="4" stroke-linecap="round" stroke-linejoin="round"><path d="M8.500 48.400A24.800 24.800 0 1 1 51.500 48.400"/><path d="M8.500 48.400l4.300-2.500M51.500 48.400l-4.300-2.500M30 11.200v5.200M7.600 25.600l4.700 2M52.400 25.600l-4.700 2"/><path d="M40.600 29.600Q36 37.500 32 40.500A4.600 4.600 0 1 1 30.500 31.600Q35.500 29.500 40.600 29.600z" stroke-width="3.400"/></g></svg>
<div class="t" style="left:2345.5px;top:767.8px;font-size:31.00px;line-height:31.00px;font-weight:bold;color:#1c1c1c;letter-spacing:0.76px;">95</div>
<div class="t" style="left:2345.5px;top:811.8px;font-size:25.60px;line-height:25.60px;color:#1f1f1f;letter-spacing:0.03px;">High risk finding instances</div>
<div class="b" style="left:2246.8px;top:891.4px;width:83.8px;height:84.0px;background:#fdf3e6;border-radius:7px;"></div>
<svg class="b" style="left:2265.2px;top:909.9px;color:#d98a21;" width="47.0" height="47.0" viewBox="0 0 32 32"><g fill="none" stroke="#d98a21" stroke-width="2.60" stroke-linecap="round" stroke-linejoin="round"><path d="M12.95 3.91Q16.00 2.30 19.05 3.91L25.65 7.39Q28.70 9.00 28.70 12.36L28.70 19.64Q28.70 23.00 25.65 24.61L19.05 28.09Q16.00 29.70 12.95 28.09L6.35 24.61Q3.30 23.00 3.30 19.64L3.30 12.36Q3.30 9.00 6.35 7.39z"/><path d="M4.500 9.800L16 15.800 27.500 9.800M16 15.800v13.200M9.500 5.800l12.700 6.600v4.600"/></g></svg>
<div class="t" style="left:2345.5px;top:903.8px;font-size:31.00px;line-height:31.00px;font-weight:bold;color:#c93030;letter-spacing:0.33px;">+3</div>
<div class="t" style="left:2345.5px;top:947.2px;font-size:25.60px;line-height:25.60px;color:#1f1f1f;letter-spacing:0.15px;">Net change since 30 days ago</div>
<svg class="b" style="left:2248.8px;top:1017.6px;" width="683.7" height="187.6" viewBox="0 0 683.7 187.6"><defs><linearGradient id="g2f" x1="0" y1="0" x2="0" y2="1"><stop offset="0" stop-color="#ffffff"/><stop offset="0.350" stop-color="#fef6ec" stop-opacity="0.850"/><stop offset="1" stop-color="#fef6ec"/></linearGradient><linearGradient id="g2s" gradientUnits="userSpaceOnUse" x1="0" y1="0" x2="683.7" y2="0"><stop offset="0" stop-color="#1a1a1a"/><stop offset="0.22" stop-color="#1a1a1a"/><stop offset="0.400" stop-color="#c27a2c"/><stop offset="1" stop-color="#c27a2c"/></linearGradient></defs><path d="M4.0 175.3L65.2 166.0L126.9 166.0L189.0 56.1L433.9 19.0L556.8 19.0L646.3 6.0L679.7 6.0L679.7 183.6L4.0 183.6z" fill="url(#g2f)"/><path d="M4.0 175.3L65.2 166.0L126.9 166.0L189.0 56.1L433.9 19.0L556.8 19.0L646.3 6.0" fill="none" stroke="url(#g2s)" stroke-width="2.200" stroke-linejoin="round"/></svg>
<div class="card" style="left:2980.1px;top:598.0px;width:730.9px;height:646.8px"></div>
<div class="t" style="left:3000.6px;top:636.7px;font-size:33.50px;line-height:33.50px;font-weight:bold;color:#1c1c1c;letter-spacing:-0.24px;">Internet accessible assets</div>
<div class="t" style="left:3000.6px;top:688.3px;font-size:26.00px;line-height:26.00px;color:#1f1f1f;letter-spacing:0.21px;">Between: 2025–02–10 and 2025–03–12</div>
<div class="b" style="left:3649.8px;top:657.2px;width:39.0px;height:3.0px;background:#555;border-radius:1.500px;"></div>
<div class="b" style="left:3649.8px;top:668.6px;width:39.0px;height:3.0px;background:#555;border-radius:1.500px;"></div>
<div class="b" style="left:3649.8px;top:680.0px;width:39.0px;height:3.0px;background:#555;border-radius:1.500px;"></div>
<div class="b" style="left:3012.2px;top:774.1px;width:84.4px;height:84.0px;background:#e9edf1;border-radius:7px;"></div>
<svg class="b" style="left:3030.9px;top:792.6px;color:#0d3b5e;" width="47.0" height="47.0" viewBox="0 0 32 32"><g fill="none" stroke="#0d3b5e" stroke-width="2.70" stroke-linecap="round" stroke-linejoin="round"><circle cx="16" cy="16" r="13"/><ellipse cx="16" cy="16" rx="5.500" ry="13"/><path d="M3 16h26M5.500 9q10.500 4 21 0M5.500 23q10.500-4 21 0"/></g></svg>
<div class="t" style="left:3111.4px;top:786.4px;font-size:31.00px;line-height:31.00px;font-weight:bold;color:#1c1c1c;letter-spacing:2.86px;">600</div>
<div class="t" style="left:3111.4px;top:830.3px;font-size:25.60px;line-height:25.60px;color:#1f1f1f;letter-spacing:0.16px;">Total Internet accessible assets</div>
<div class="b" style="left:3012.2px;top:909.0px;width:84.4px;height:84.4px;background:#e9edf1;border-radius:7px;"></div>
<svg class="b" style="left:3030.9px;top:927.7px;color:#0d3b5e;" width="47.0" height="47.0" viewBox="0 0 32 32"><g fill="none" stroke="#0d3b5e" stroke-width="2.70" stroke-linecap="round" stroke-linejoin="round"><path d="M12.95 3.91Q16.00 2.30 19.05 3.91L25.65 7.39Q28.70 9.00 28.70 12.36L28.70 19.64Q28.70 23.00 25.65 24.61L19.05 28.09Q16.00 29.70 12.95 28.09L6.35 24.61Q3.30 23.00 3.30 19.64L3.30 12.36Q3.30 9.00 6.35 7.39z"/><path d="M4.500 9.800L16 15.800 27.500 9.800M16 15.800v13.200M9.500 5.800l12.700 6.600v4.600"/></g></svg>
<div class="t" style="left:3111.4px;top:922.3px;font-size:31.00px;line-height:31.00px;font-weight:bold;color:#c93030;letter-spacing:-0.06px;">+10</div>
<div class="t" style="left:3111.4px;top:965.7px;font-size:25.60px;line-height:25.60px;color:#1f1f1f;letter-spacing:0.15px;">Net change since 30 days ago</div>
<svg class="b" style="left:3014.7px;top:1036.1px;" width="669.8" height="163.1" viewBox="0 0 669.8 163.1"><defs><linearGradient id="g3f" x1="0" y1="0" x2="0" y2="1"><stop offset="0" stop-color="#f8fafb"/><stop offset="0.350" stop-color="#eceff2" stop-opacity="0.850"/><stop offset="1" stop-color="#eceff2"/></linearGradient><linearGradient id="g3s" gradientUnits="userSpaceOnUse" x1="0" y1="0" x2="669.8" y2="0"><stop offset="0" stop-color="#12222e"/><stop offset="0.22" stop-color="#12222e"/><stop offset="0.400" stop-color="#12303f"/><stop offset="1" stop-color="#12303f"/></linearGradient></defs><path d="M4.0 152.1L29.5 49.2L184.9 49.2L425.1 16.7L477.0 72.4L641.6 72.4L663.9 6.0L665.8 6.0L665.8 159.1L4.0 159.1z" fill="url(#g3f)"/><path d="M4.0 152.1L29.5 49.2L184.9 49.2L425.1 16.7L477.0 72.4L641.6 72.4L663.9 6.0" fill="none" stroke="url(#g3s)" stroke-width="2.200" stroke-linejoin="round"/></svg>
<div class="card" style="left:563.8px;top:1265.8px;width:1145.5px;height:782.2px"></div>
<div class="t" style="left:585.5px;top:1298.5px;font-size:33.50px;line-height:33.50px;font-weight:bold;color:#1c1c1c;letter-spacing:-0.78px;">Top findings</div>
<div class="t" style="left:585.5px;top:1351.4px;font-size:26.00px;line-height:26.00px;color:#1f1f1f;letter-spacing:-0.08px;">As of: 2025–03–12</div>
<div class="b" style="left:1650.0px;top:1319.9px;width:39.0px;height:3.0px;background:#555;border-radius:1.500px;"></div>
<div class="b" style="left:1650.0px;top:1331.3px;width:39.0px;height:3.0px;background:#555;border-radius:1.500px;"></div>
<div class="b" style="left:1650.0px;top:1342.7px;width:39.0px;height:3.0px;background:#555;border-radius:1.500px;"></div>
<div class="b" style="left:564.0px;top:1400.0px;width:1146.0px;height:65.2px;background:#1f3347;"></div>
<div class="t" style="left:585.5px;top:1420.0px;font-size:26.50px;line-height:26.50px;font-weight:bold;color:#fff;letter-spacing:-1.35px;">Finding</div>
<div class="t" style="left:1015.5px;top:1420.0px;font-size:26.50px;line-height:26.50px;font-weight:bold;color:#fff;letter-spacing:-0.38px;">Category</div>
<div class="t" style="left:1289.4px;top:1420.0px;font-size:26.50px;line-height:26.50px;font-weight:bold;color:#fff;letter-spacing:-0.91px;">Instances</div>
<div class="t" style="left:1519.5px;top:1420.0px;font-size:26.50px;line-height:26.50px;font-weight:bold;color:#fff;letter-spacing:-2.24px;">Risk</div>
<div class="b" style="left:566.0px;top:1541.9px;width:1141.5px;height:2.0px;background:#e9e9e9;"></div>
<div class="t" style="left:585.5px;top:1492.7px;font-size:27.00px;line-height:27.00px;color:#0e7a8e;letter-spacing:-0.20px;-webkit-text-stroke:0.500px #0e7a8e;">Unauthenticated Database</div>
<div class="b" style="left:1011.3px;top:1483.6px;width:42.4px;height:42.4px;background:#fdf3e4;border:1.500px solid #f3dcb5;border-radius:4px;"></div>
<svg class="b" style="left:1018.0px;top:1490.3px;color:#d98a1f;" width="29.0" height="29.0" viewBox="0 0 32 32"><g fill="none" stroke="#d98a1f" stroke-width="2.40" stroke-linecap="round" stroke-linejoin="round"><rect x="5" y="14" width="22" height="15" rx="2.500"/><path d="M10 14V9a6 6 0 0 1 11.800-1.500M16 20v3.500"/></g></svg>
<div class="t" style="left:1064.4px;top:1492.7px;font-size:27.00px;line-height:27.00px;color:#0e7a8e;letter-spacing:-0.32px;-webkit-text-stroke:0.500px #0e7a8e;">Open Access</div>
<div class="t" style="left:1285.2px;top:1492.7px;font-size:27.00px;line-height:27.00px;color:#0e7a8e;letter-spacing:-1.52px;-webkit-text-stroke:0.500px #0e7a8e;">67</div>
<div class="b" style="left:1515.3px;top:1484.0px;width:116.5px;height:39.6px;background:#fde9e9;border-radius:8px;"></div>
<div class="t" style="left:1531.6px;top:1491.7px;font-size:26.50px;line-height:26.50px;color:#c0392b;letter-spacing:0.19px;-webkit-text-stroke:0.500px #c0392b;">Critical</div>
<div class="b" style="left:566.0px;top:1619.6px;width:1141.5px;height:2.0px;background:#e9e9e9;"></div>
<div class="t" style="left:585.5px;top:1570.4px;font-size:27.00px;line-height:27.00px;color:#0e7a8e;letter-spacing:-0.20px;-webkit-text-stroke:0.500px #0e7a8e;">Service Misconfiguration</div>
<div class="b" style="left:1011.3px;top:1561.3px;width:42.4px;height:42.4px;background:#e5ebfa;border:1.500px solid #c3cfee;border-radius:4px;"></div>
<svg class="b" style="left:1018.0px;top:1568.0px;color:#2a4fc0;" width="29.0" height="29.0" viewBox="0 0 32 32"><g fill="none" stroke="#2a4fc0" stroke-width="2.40" stroke-linecap="round" stroke-linejoin="round"><path d="M3 14h6v15H3z"/><path d="M9 15l5-11.500a3.500 3.500 0 0 1 4.500 4L17.500 12.500h8a3 3 0 0 1 3 3.500l-1.800 10a3.500 3.500 0 0 1-3.500 3H9"/></g></svg>
<div class="t" style="left:1064.4px;top:1570.4px;font-size:27.00px;line-height:27.00px;color:#0e7a8e;letter-spacing:-0.28px;-webkit-text-stroke:0.500px #0e7a8e;">Best Practices</div>
<div class="t" style="left:1285.2px;top:1570.4px;font-size:27.00px;line-height:27.00px;color:#0e7a8e;letter-spacing:0.58px;-webkit-text-stroke:0.500px #0e7a8e;">20</div>
<div class="b" style="left:1515.3px;top:1561.7px;width:116.5px;height:39.6px;background:#fde9e9;border-radius:8px;"></div>
<div class="t" style="left:1531.6px;top:1569.4px;font-size:26.50px;line-height:26.50px;color:#c0392b;letter-spacing:0.19px;-webkit-text-stroke:0.500px #c0392b;">Critical</div>
<div class="b" style="left:566.0px;top:1697.3px;width:1141.5px;height:2.0px;background:#e9e9e9;"></div>
<div class="t" style="left:585.5px;top:1648.1px;font-size:27.00px;line-height:27.00px;color:#0e7a8e;letter-spacing:-0.31px;-webkit-text-stroke:0.500px #0e7a8e;">Known Exploited Vulnerability</div>
<div class="b" style="left:1015.5px;top:1639.0px;width:42.4px;height:42.4px;background:#fde8e8;border:1.500px solid #f5c6c6;border-radius:4px;"></div>
<svg class="b" style="left:1022.2px;top:1645.7px;color:#d93025;" width="29.0" height="29.0" viewBox="0 0 32 32"><g fill="none" stroke="#d93025" stroke-width="2.40" stroke-linecap="round" stroke-linejoin="round"><path d="M9 13a7 7 0 0 1 14 0v7a7 7 0 0 1-14 0z"/><path d="M9 13h14M11 7L8.500 3.500M21 7l2.500-3.500M9 17H3.500M9 22l-4.500 3M23 17h5.500M23 22l4.500 3M9 11L5 8M23 11l4-3"/></g></svg>
<div class="t" style="left:1068.6px;top:1648.1px;font-size:27.00px;line-height:27.00px;color:#0e7a8e;letter-spacing:-0.24px;-webkit-text-stroke:0.500px #0e7a8e;">Vulnerabilities</div>
<div class="t" style="left:1289.4px;top:1648.1px;font-size:27.00px;line-height:27.00px;color:#0e7a8e;letter-spacing:0.83px;-webkit-text-stroke:0.500px #0e7a8e;">90</div>
<div class="b" style="left:1519.5px;top:1639.4px;width:86.7px;height:39.6px;background:#fdf4e8;border-radius:8px;"></div>
<div class="t" style="left:1535.8px;top:1647.1px;font-size:26.50px;line-height:26.50px;color:#d48a1f;letter-spacing:-0.35px;-webkit-text-stroke:0.500px #d48a1f;">High</div>
<div class="b" style="left:566.0px;top:1775.0px;width:1141.5px;height:2.0px;background:#e9e9e9;"></div>
<div class="t" style="left:585.5px;top:1725.8px;font-size:27.00px;line-height:27.00px;color:#0e7a8e;letter-spacing:-0.10px;-webkit-text-stroke:0.500px #0e7a8e;">Certificate Expiration</div>
<div class="b" style="left:1015.5px;top:1716.7px;width:42.4px;height:42.4px;background:#e6eef2;border:1.500px solid #c9d8de;border-radius:4px;"></div>
<svg class="b" style="left:1022.2px;top:1723.4px;color:#0a5566;" width="29.0" height="29.0" viewBox="0 0 32 32"><g fill="none" stroke="#0a5566" stroke-width="2.40" stroke-linecap="round" stroke-linejoin="round"><path d="M15 24H5a2 2 0 0 1-2-2V6a2 2 0 0 1 2-2h22a2 2 0 0 1 2 2v8"/><path d="M8 10h16M8 15h8"/><circle cx="23" cy="20" r="4.200"/><path d="M20 23.500V29.500l3-2 3 2V23.500"/></g></svg>
<div class="t" style="left:1068.6px;top:1725.8px;font-size:27.00px;line-height:27.00px;color:#0e7a8e;letter-spacing:0.30px;-webkit-text-stroke:0.500px #0e7a8e;">Certificate</div>
<div class="t" style="left:1289.4px;top:1725.8px;font-size:27.00px;line-height:27.00px;color:#0e7a8e;letter-spacing:-1.02px;-webkit-text-stroke:0.500px #0e7a8e;">3</div>
<div class="b" style="left:1519.5px;top:1717.1px;width:86.7px;height:39.6px;background:#fdf4e8;border-radius:8px;"></div>
<div class="t" style="left:1535.8px;top:1724.8px;font-size:26.50px;line-height:26.50px;color:#d48a1f;letter-spacing:-0.35px;-webkit-text-stroke:0.500px #d48a1f;">High</div>
<div class="b" style="left:566.0px;top:1852.7px;width:1141.5px;height:2.0px;background:#e9e9e9;"></div>
<div class="t" style="left:585.5px;top:1803.5px;font-size:27.00px;line-height:27.00px;color:#0e7a8e;letter-spacing:-0.54px;-webkit-text-stroke:0.500px #0e7a8e;">Publicly Exposed Database Server</div>
<div class="b" style="left:1015.5px;top:1794.4px;width:42.4px;height:42.4px;background:#e6eef2;border:1.500px solid #c9d8de;border-radius:4px;"></div>
<svg class="b" style="left:1022.2px;top:1801.1px;color:#0a6070;" width="29.0" height="29.0" viewBox="0 0 32 32"><g fill="none" stroke="#0a6070" stroke-width="2.40" stroke-linecap="round" stroke-linejoin="round"><circle cx="16" cy="16" r="12.500"/><ellipse cx="16" cy="16" rx="5.500" ry="12.500"/><path d="M3.500 16h25M6.500 8.500q9.500 3.500 19 0M6.500 23.500q9.500-3.500 19 0" stroke-width="2"/></g></svg>
<div class="t" style="left:1068.6px;top:1803.5px;font-size:27.00px;line-height:27.00px;color:#0e7a8e;letter-spacing:-0.40px;-webkit-text-stroke:0.500px #0e7a8e;">Internet Exposure</div>
<div class="t" style="left:1289.4px;top:1803.5px;font-size:27.00px;line-height:27.00px;color:#0e7a8e;letter-spacing:-1.02px;-webkit-text-stroke:0.500px #0e7a8e;">2</div>
<div class="b" style="left:1519.5px;top:1794.8px;width:86.7px;height:39.6px;background:#fdf4e8;border-radius:8px;"></div>
<div class="t" style="left:1535.8px;top:1802.5px;font-size:26.50px;line-height:26.50px;color:#d48a1f;letter-spacing:-0.35px;-webkit-text-stroke:0.500px #d48a1f;">High</div>
<div class="b" style="left:566.0px;top:1930.4px;width:1141.5px;height:2.0px;background:#e9e9e9;"></div>
<div class="t" style="left:585.5px;top:1881.2px;font-size:27.00px;line-height:27.00px;color:#0e7a8e;letter-spacing:0.09px;-webkit-text-stroke:0.500px #0e7a8e;">End-of-Life Operating System</div>
<div class="b" style="left:1015.5px;top:1872.1px;width:42.4px;height:42.4px;background:#fdf3e4;border:1.500px solid #f3dcb5;border-radius:4px;"></div>
<svg class="b" style="left:1022.2px;top:1878.8px;color:#d98a1f;" width="29.0" height="29.0" viewBox="0 0 32 32"><g fill="none" stroke="#d98a1f" stroke-width="2.40" stroke-linecap="round" stroke-linejoin="round"><path d="M5 29.500l2.500-4V12a8.500 8.500 0 0 1 17 0v13.500l2.500 4"/><path d="M7.500 25.500q8.500-5 17 0M11.500 13h9M11.500 18h9"/></g></svg>
<div class="t" style="left:1068.6px;top:1881.2px;font-size:27.00px;line-height:27.00px;color:#0e7a8e;letter-spacing:0.66px;-webkit-text-stroke:0.500px #0e7a8e;">End-of-Life</div>
<div class="t" style="left:1289.4px;top:1881.2px;font-size:27.00px;line-height:27.00px;color:#0e7a8e;letter-spacing:-1.18px;-webkit-text-stroke:0.500px #0e7a8e;">150</div>
<div class="b" style="left:1519.5px;top:1872.5px;width:128.6px;height:39.6px;background:#fefae4;border-radius:8px;"></div>
<div class="t" style="left:1535.8px;top:1880.2px;font-size:26.50px;line-height:26.50px;color:#c9a50f;letter-spacing:-0.18px;-webkit-text-stroke:0.500px #c9a50f;">Medium</div>
<div class="b" style="left:566.0px;top:2008.1px;width:1141.5px;height:2.0px;background:#e9e9e9;"></div>
<div class="t" style="left:585.5px;top:1958.9px;font-size:27.00px;line-height:27.00px;color:#0e7a8e;letter-spacing:-0.79px;-webkit-text-stroke:0.500px #0e7a8e;">Rapid Response: Services With P...</div>
<div class="b" style="left:1015.5px;top:1949.8px;width:42.4px;height:42.4px;background:#fde8e8;border:1.500px solid #f5c6c6;border-radius:4px;"></div>
<svg class="b" style="left:1023.2px;top:1957.5px;color:#d93025;" width="27.0" height="27.0" viewBox="0 0 32 32"><g fill="none" stroke="#d93025" stroke-width="2.40" stroke-linecap="round" stroke-linejoin="round"><path d="M11.7 2.5H23.7L19.3 10.8L26.8 11.1L8.5 29.5L12.9 16.1L5.3 15.9z"/></g></svg>
<div class="t" style="left:1068.6px;top:1958.9px;font-size:27.00px;line-height:27.00px;color:#0e7a8e;letter-spacing:-0.75px;-webkit-text-stroke:0.500px #0e7a8e;">Rapid Response</div>
<div class="t" style="left:1289.4px;top:1958.9px;font-size:27.00px;line-height:27.00px;color:#0e7a8e;letter-spacing:-0.12px;-webkit-text-stroke:0.500px #0e7a8e;">38</div>
<div class="b" style="left:1519.5px;top:1950.2px;width:76.9px;height:39.6px;background:#e4e9f5;border-radius:8px;border:1.500px solid #c5cfe6;"></div>
<div class="t" style="left:1535.8px;top:1957.9px;font-size:26.50px;line-height:26.50px;color:#1e3a8a;letter-spacing:-0.10px;-webkit-text-stroke:0.500px #1e3a8a;">Info</div>
<div class="card" style="left:1730.1px;top:1265.8px;width:1145.0px;height:782.2px"></div>
<div class="t" style="left:1751.2px;top:1298.3px;font-size:33.50px;line-height:33.50px;font-weight:bold;color:#1c1c1c;letter-spacing:-1.09px;">Findings by risk</div>
<div class="t" style="left:1751.2px;top:1351.4px;font-size:26.00px;line-height:26.00px;color:#1f1f1f;letter-spacing:0.21px;">Between: 2025–02–10 and 2025–03–12</div>
<div class="b" style="left:2815.9px;top:1319.9px;width:39.0px;height:3.0px;background:#555;border-radius:1.500px;"></div>
<div class="b" style="left:2815.9px;top:1331.3px;width:39.0px;height:3.0px;background:#555;border-radius:1.500px;"></div>
<div class="b" style="left:2815.9px;top:1342.7px;width:39.0px;height:3.0px;background:#555;border-radius:1.500px;"></div>
<svg class="b" style="left:1740.0px;top:1430.0px;" width="1130.0" height="590.0" viewBox="0 0 1130 590"><rect x="89.0" y="23.6" width="1026.500" height="2" fill="#ececec"/><rect x="89.0" y="159.5" width="1026.500" height="2" fill="#ececec"/><rect x="89.0" y="296.5" width="1026.500" height="2" fill="#ececec"/><path d="M98.8 207.5L132.3 206.4L165.8 206.4L199.4 206.4L232.9 207.5L266.4 189.8L299.9 185.4L333.5 174.3L367.0 207.5L400.5 206.4L434.0 207.5L467.6 192.0L501.1 175.8L534.6 192.0L568.1 206.4L601.6 206.4L635.2 206.4L668.7 184.3L702.2 152.8L735.7 207.5L769.3 207.6L802.8 208.3L836.3 180.4L869.8 210.8L903.4 210.8L936.9 211.5L970.4 107.9L1003.9 211.3L1037.4 211.5L1071.0 210.8L1104.5 211.5L1104.5 435.0 L98.8 435.0 z" fill="#ee9b8c"/><path d="M98.8 207.5L132.3 206.4L165.8 206.4L199.4 206.4L232.9 207.5L266.4 189.8L299.9 185.4L333.5 174.3L367.0 207.5L400.5 206.4L434.0 207.5L467.6 192.0L501.1 175.8L534.6 192.0L568.1 206.4L601.6 206.4L635.2 206.4L668.7 184.3L702.2 152.8L735.7 207.5L769.3 207.6L802.8 208.3L836.3 180.4L869.8 210.8L903.4 210.8L936.9 211.5L970.4 107.9L1003.9 211.3L1037.4 211.5L1071.0 210.8L1104.5 211.5" fill="none" stroke="#e47f70" stroke-width="2" stroke-linejoin="round"/><g fill="#e2776a"><circle cx="98.8" cy="207.5" r="3.300"/><circle cx="132.3" cy="206.4" r="3.300"/><circle cx="165.8" cy="206.4" r="3.300"/><circle cx="199.4" cy="206.4" r="3.300"/><circle cx="232.9" cy="207.5" r="3.300"/><circle cx="266.4" cy="189.8" r="3.300"/><circle cx="299.9" cy="185.4" r="3.300"/><circle cx="333.5" cy="174.3" r="3.300"/><circle cx="367.0" cy="207.5" r="3.300"/><circle cx="400.5" cy="206.4" r="3.300"/><circle cx="434.0" cy="207.5" r="3.300"/><circle cx="467.6" cy="192.0" r="3.300"/><circle cx="501.1" cy="175.8" r="3.300"/><circle cx="534.6" cy="192.0" r="3.300"/><circle cx="568.1" cy="206.4" r="3.300"/><circle cx="601.6" cy="206.4" r="3.300"/><circle cx="635.2" cy="206.4" r="3.300"/><circle cx="668.7" cy="184.3" r="3.300"/><circle cx="702.2" cy="152.8" r="3.300"/><circle cx="735.7" cy="207.5" r="3.300"/><circle cx="769.3" cy="207.6" r="3.300"/><circle cx="802.8" cy="208.3" r="3.300"/><circle cx="836.3" cy="180.4" r="3.300"/><circle cx="869.8" cy="210.8" r="3.300"/><circle cx="903.4" cy="210.8" r="3.300"/><circle cx="936.9" cy="211.5" r="3.300"/><circle cx="970.4" cy="107.9" r="3.300"/><circle cx="1003.9" cy="211.3" r="3.300"/><circle cx="1037.4" cy="211.5" r="3.300"/><circle cx="1071.0" cy="210.8" r="3.300"/><circle cx="1104.5" cy="211.5" r="3.300"/></g><path d="M98.8 314.5L132.3 314.5L165.8 313.8L199.4 312.7L232.9 312.7L266.4 286.6L299.9 291.7L333.5 281.3L367.0 312.1L400.5 302.8L434.0 302.8L467.6 287.7L501.1 287.3L534.6 301.7L568.1 290.6L601.6 333.8L635.2 305.0L668.7 283.9L702.2 281.3L735.7 358.1L769.3 357.7L802.8 329.1L836.3 276.8L869.8 316.7L903.4 246.4L936.9 246.4L970.4 156.0L1003.9 234.5L1037.4 225.2L1071.0 224.5L1104.5 225.7L1104.5 435.0 L98.8 435.0 z" fill="#f6b55f"/><path d="M98.8 314.5L132.3 314.5L165.8 313.8L199.4 312.7L232.9 312.7L266.4 286.6L299.9 291.7L333.5 281.3L367.0 312.1L400.5 302.8L434.0 302.8L467.6 287.7L501.1 287.3L534.6 301.7L568.1 290.6L601.6 333.8L635.2 305.0L668.7 283.9L702.2 281.3L735.7 358.1L769.3 357.7L802.8 329.1L836.3 276.8L869.8 316.7L903.4 246.4L936.9 246.4L970.4 156.0L1003.9 234.5L1037.4 225.2L1071.0 224.5L1104.5 225.7" fill="none" stroke="#f2a84a" stroke-width="2" stroke-linejoin="round"/><g fill="#ee9d32"><circle cx="98.8" cy="314.5" r="3.300"/><circle cx="132.3" cy="314.5" r="3.300"/><circle cx="165.8" cy="313.8" r="3.300"/><circle cx="199.4" cy="312.7" r="3.300"/><circle cx="232.9" cy="312.7" r="3.300"/><circle cx="266.4" cy="286.6" r="3.300"/><circle cx="299.9" cy="291.7" r="3.300"/><circle cx="333.5" cy="281.3" r="3.300"/><circle cx="367.0" cy="312.1" r="3.300"/><circle cx="400.5" cy="302.8" r="3.300"/><circle cx="434.0" cy="302.8" r="3.300"/><circle cx="467.6" cy="287.7" r="3.300"/><circle cx="501.1" cy="287.3" r="3.300"/><circle cx="534.6" cy="301.7" r="3.300"/><circle cx="568.1" cy="290.6" r="3.300"/><circle cx="601.6" cy="333.8" r="3.300"/><circle cx="635.2" cy="305.0" r="3.300"/><circle cx="668.7" cy="283.9" r="3.300"/><circle cx="702.2" cy="281.3" r="3.300"/><circle cx="735.7" cy="358.1" r="3.300"/><circle cx="769.3" cy="357.7" r="3.300"/><circle cx="802.8" cy="329.1" r="3.300"/><circle cx="836.3" cy="276.8" r="3.300"/><circle cx="869.8" cy="316.7" r="3.300"/><circle cx="903.4" cy="246.4" r="3.300"/><circle cx="936.9" cy="246.4" r="3.300"/><circle cx="970.4" cy="156.0" r="3.300"/><circle cx="1003.9" cy="234.5" r="3.300"/><circle cx="1037.4" cy="225.2" r="3.300"/><circle cx="1071.0" cy="224.5" r="3.300"/><circle cx="1104.5" cy="225.7" r="3.300"/></g><path d="M98.8 314.5L132.3 314.5L165.8 313.8L199.4 312.7L232.9 312.7L266.4 307.2L299.9 312.7L333.5 302.3L367.0 312.1L400.5 312.1L434.0 313.8L467.6 301.7L501.1 301.7L534.6 314.9L568.1 380.3L601.6 380.3L635.2 364.8L668.7 336.0L702.2 338.2L735.7 393.6L769.3 395.1L802.8 364.0L836.3 337.8L869.8 366.5L903.4 283.0L936.9 259.4L970.4 173.4L1003.9 268.1L1037.4 268.1L1071.0 224.5L1104.5 234.5L1104.5 435.0 L98.8 435.0 z" fill="#fde47c"/><path d="M98.8 314.5L132.3 314.5L165.8 313.8L199.4 312.7L232.9 312.7L266.4 307.2L299.9 312.7L333.5 302.3L367.0 312.1L400.5 312.1L434.0 313.8L467.6 301.7L501.1 301.7L534.6 314.9L568.1 380.3L601.6 380.3L635.2 364.8L668.7 336.0L702.2 338.2L735.7 393.6L769.3 395.1L802.8 364.0L836.3 337.8L869.8 366.5L903.4 283.0L936.9 259.4L970.4 173.4L1003.9 268.1L1037.4 268.1L1071.0 224.5L1104.5 234.5" fill="none" stroke="#fbdc5e" stroke-width="2" stroke-linejoin="round"/><g fill="#fad94f"><circle cx="98.8" cy="314.5" r="3.300"/><circle cx="132.3" cy="314.5" r="3.300"/><circle cx="165.8" cy="313.8" r="3.300"/><circle cx="199.4" cy="312.7" r="3.300"/><circle cx="232.9" cy="312.7" r="3.300"/><circle cx="266.4" cy="307.2" r="3.300"/><circle cx="299.9" cy="312.7" r="3.300"/><circle cx="333.5" cy="302.3" r="3.300"/><circle cx="367.0" cy="312.1" r="3.300"/><circle cx="400.5" cy="312.1" r="3.300"/><circle cx="434.0" cy="313.8" r="3.300"/><circle cx="467.6" cy="301.7" r="3.300"/><circle cx="501.1" cy="301.7" r="3.300"/><circle cx="534.6" cy="314.9" r="3.300"/><circle cx="568.1" cy="380.3" r="3.300"/><circle cx="601.6" cy="380.3" r="3.300"/><circle cx="635.2" cy="364.8" r="3.300"/><circle cx="668.7" cy="336.0" r="3.300"/><circle cx="702.2" cy="338.2" r="3.300"/><circle cx="735.7" cy="393.6" r="3.300"/><circle cx="769.3" cy="395.1" r="3.300"/><circle cx="802.8" cy="364.0" r="3.300"/><circle cx="836.3" cy="337.8" r="3.300"/><circle cx="869.8" cy="366.5" r="3.300"/><circle cx="903.4" cy="283.0" r="3.300"/><circle cx="936.9" cy="259.4" r="3.300"/><circle cx="970.4" cy="173.4" r="3.300"/><circle cx="1003.9" cy="268.1" r="3.300"/><circle cx="1037.4" cy="268.1" r="3.300"/><circle cx="1071.0" cy="224.5" r="3.300"/><circle cx="1104.5" cy="234.5" r="3.300"/></g><path d="M98.8 314.5L132.3 314.5L165.8 313.8L199.4 330.4L232.9 329.3L266.4 323.8L299.9 323.8L333.5 312.7L367.0 323.8L400.5 336.0L434.0 328.2L467.6 317.2L501.1 318.3L534.6 380.3L568.1 389.1L601.6 381.4L635.2 389.1L668.7 390.2L702.2 393.6L735.7 394.7L769.3 395.1L802.8 395.1L836.3 365.2L869.8 367.7L903.4 375.2L936.9 281.8L970.4 271.8L1003.9 288.0L1037.4 280.5L1071.0 275.6L1104.5 244.4L1104.5 435.0 L98.8 435.0 z" fill="#dcdcdc"/><path d="M98.8 314.5L132.3 314.5L165.8 313.8L199.4 330.4L232.9 329.3L266.4 323.8L299.9 323.8L333.5 312.7L367.0 323.8L400.5 336.0L434.0 328.2L467.6 317.2L501.1 318.3L534.6 380.3L568.1 389.1L601.6 381.4L635.2 389.1L668.7 390.2L702.2 393.6L735.7 394.7L769.3 395.1L802.8 395.1L836.3 365.2L869.8 367.7L903.4 375.2L936.9 281.8L970.4 271.8L1003.9 288.0L1037.4 280.5L1071.0 275.6L1104.5 244.4" fill="none" stroke="#d6d6d6" stroke-width="2" stroke-linejoin="round"/><g fill="#d2d2d2"><circle cx="98.8" cy="314.5" r="3.300"/><circle cx="132.3" cy="314.5" r="3.300"/><circle cx="165.8" cy="313.8" r="3.300"/><circle cx="199.4" cy="330.4" r="3.300"/><circle cx="232.9" cy="329.3" r="3.300"/><circle cx="266.4" cy="323.8" r="3.300"/><circle cx="299.9" cy="323.8" r="3.300"/><circle cx="333.5" cy="312.7" r="3.300"/><circle cx="367.0" cy="323.8" r="3.300"/><circle cx="400.5" cy="336.0" r="3.300"/><circle cx="434.0" cy="328.2" r="3.300"/><circle cx="467.6" cy="317.2" r="3.300"/><circle cx="501.1" cy="318.3" r="3.300"/><circle cx="534.6" cy="380.3" r="3.300"/><circle cx="568.1" cy="389.1" r="3.300"/><circle cx="601.6" cy="381.4" r="3.300"/><circle cx="635.2" cy="389.1" r="3.300"/><circle cx="668.7" cy="390.2" r="3.300"/><circle cx="702.2" cy="393.6" r="3.300"/><circle cx="735.7" cy="394.7" r="3.300"/><circle cx="769.3" cy="395.1" r="3.300"/><circle cx="802.8" cy="395.1" r="3.300"/><circle cx="836.3" cy="365.2" r="3.300"/><circle cx="869.8" cy="367.7" r="3.300"/><circle cx="903.4" cy="375.2" r="3.300"/><circle cx="936.9" cy="281.8" r="3.300"/><circle cx="970.4" cy="271.8" r="3.300"/><circle cx="1003.9" cy="288.0" r="3.300"/><circle cx="1037.4" cy="280.5" r="3.300"/><circle cx="1071.0" cy="275.6" r="3.300"/><circle cx="1104.5" cy="244.4" r="3.300"/></g><path d="M98.8 314.5L132.3 314.5L165.8 326.0L199.4 342.6L232.9 342.6L266.4 339.3L299.9 355.9L333.5 355.9L367.0 339.3L400.5 339.3L434.0 329.3L467.6 327.8L501.1 381.4L534.6 400.7L568.1 400.7L601.6 392.9L635.2 412.4L668.7 412.4L702.2 414.2L735.7 395.8L769.3 395.9L802.8 395.9L836.3 405.8L869.8 386.4L903.4 386.4L936.9 387.6L970.4 376.4L1003.9 301.7L1037.4 280.5L1071.0 301.0L1104.5 288.5L1104.5 435.0 L98.8 435.0 z" fill="#5583d1"/><path d="M98.8 314.5L132.3 314.5L165.8 326.0L199.4 342.6L232.9 342.6L266.4 339.3L299.9 355.9L333.5 355.9L367.0 339.3L400.5 339.3L434.0 329.3L467.6 327.8L501.1 381.4L534.6 400.7L568.1 400.7L601.6 392.9L635.2 412.4L668.7 412.4L702.2 414.2L735.7 395.8L769.3 395.9L802.8 395.9L836.3 405.8L869.8 386.4L903.4 386.4L936.9 387.6L970.4 376.4L1003.9 301.7L1037.4 280.5L1071.0 301.0L1104.5 288.5" fill="none" stroke="#4d7ccc" stroke-width="2" stroke-linejoin="round"/><g fill="#1b55c0"><circle cx="98.8" cy="314.5" r="3.300"/><circle cx="132.3" cy="314.5" r="3.300"/><circle cx="165.8" cy="326.0" r="3.300"/><circle cx="199.4" cy="342.6" r="3.300"/><circle cx="232.9" cy="342.6" r="3.300"/><circle cx="266.4" cy="339.3" r="3.300"/><circle cx="299.9" cy="355.9" r="3.300"/><circle cx="333.5" cy="355.9" r="3.300"/><circle cx="367.0" cy="339.3" r="3.300"/><circle cx="400.5" cy="339.3" r="3.300"/><circle cx="434.0" cy="329.3" r="3.300"/><circle cx="467.6" cy="327.8" r="3.300"/><circle cx="501.1" cy="381.4" r="3.300"/><circle cx="534.6" cy="400.7" r="3.300"/><circle cx="568.1" cy="400.7" r="3.300"/><circle cx="601.6" cy="392.9" r="3.300"/><circle cx="635.2" cy="412.4" r="3.300"/><circle cx="668.7" cy="412.4" r="3.300"/><circle cx="702.2" cy="414.2" r="3.300"/><circle cx="735.7" cy="395.8" r="3.300"/><circle cx="769.3" cy="395.9" r="3.300"/><circle cx="802.8" cy="395.9" r="3.300"/><circle cx="836.3" cy="405.8" r="3.300"/><circle cx="869.8" cy="386.4" r="3.300"/><circle cx="903.4" cy="386.4" r="3.300"/><circle cx="936.9" cy="387.6" r="3.300"/><circle cx="970.4" cy="376.4" r="3.300"/><circle cx="1003.9" cy="301.7" r="3.300"/><circle cx="1037.4" cy="280.5" r="3.300"/><circle cx="1071.0" cy="301.0" r="3.300"/><circle cx="1104.5" cy="288.5" r="3.300"/></g><rect x="88.5" y="434.5" width="1027" height="2" fill="#222"/><rect x="105.3" y="435.0" width="2.400" height="18" fill="#222"/><rect x="341.2" y="435.0" width="2.400" height="18" fill="#222"/><rect x="576.4" y="435.0" width="2.400" height="18" fill="#222"/><rect x="808.2" y="435.0" width="2.400" height="18" fill="#222"/><rect x="1041.7" y="435.0" width="2.400" height="18" fill="#222"/><rect x="176.0" y="543.7" width="27.800" height="10.800" fill="#ee9b8c"/><circle cx="189.9" cy="545.2" r="4.200" fill="#e2776a"/><rect x="347.2" y="543.7" width="27.800" height="10.800" fill="#f6b55f"/><circle cx="361.1" cy="545.2" r="4.200" fill="#ee9d32"/><rect x="499.4" y="543.7" width="27.800" height="10.800" fill="#fde47c"/><circle cx="513.3" cy="545.2" r="4.200" fill="#fad94f"/><rect x="680.0" y="545.7" width="27.800" height="10.800" fill="#dcdcdc"/><circle cx="693.9" cy="547.2" r="4.200" fill="#d2d2d2"/><rect x="828.6" y="547.6" width="27.800" height="10.800" fill="#5583d1"/><circle cx="842.5" cy="549.1" r="4.200" fill="#1b55c0"/></svg>
<div class="t" style="left:1792.9px;top:1445.2px;font-size:22.50px;line-height:22.50px;color:#3a3a3a;letter-spacing:0.30px;">6k</div>
<div class="t" style="left:1792.9px;top:1580.8px;font-size:22.50px;line-height:22.50px;color:#3a3a3a;letter-spacing:0.30px;">4k</div>
<div class="t" style="left:1792.9px;top:1718.3px;font-size:22.50px;line-height:22.50px;color:#3a3a3a;letter-spacing:0.30px;">2k</div>
<div class="t" style="left:1804.5px;top:1855.8px;font-size:22.50px;line-height:22.50px;color:#3a3a3a;letter-spacing:0.30px;">0</div>
<div class="t" style="left:1817.5px;top:1893.6px;font-size:25.00px;line-height:25.00px;color:#3a3a3a;letter-spacing:-1.46px;">Feb 10</div>
<div class="t" style="left:2051.4px;top:1893.6px;font-size:25.00px;line-height:25.00px;color:#3a3a3a;letter-spacing:-0.94px;">Feb 24</div>
<div class="t" style="left:2291.0px;top:1893.6px;font-size:25.00px;line-height:25.00px;color:#3a3a3a;letter-spacing:-1.66px;">Mar 3</div>
<div class="t" style="left:2520.7px;top:1893.6px;font-size:25.00px;line-height:25.00px;color:#3a3a3a;letter-spacing:-1.82px;">Mar 9</div>
<div class="t" style="left:2753.3px;top:1893.6px;font-size:25.00px;line-height:25.00px;color:#3a3a3a;letter-spacing:-2.30px;">Mar 12</div>
<div class="t" style="left:1773px;top:1731px;width:0;height:0;"><div class="t" style="transform:translate(-50%,-50%) rotate(-90deg);font-size:26.500px;line-height:26.500px;color:#666;letter-spacing:-0.11px;left:0;top:0;">Number of instances</div></div>
<div class="t" style="left:1956.0px;top:1966.1px;font-size:26.50px;line-height:26.50px;color:#3a3a3a;letter-spacing:0.08px;">Critical</div>
<div class="t" style="left:2138.5px;top:1966.1px;font-size:26.50px;line-height:26.50px;color:#3a3a3a;letter-spacing:-0.33px;">High</div>
<div class="t" style="left:2298.0px;top:1966.1px;font-size:26.50px;line-height:26.50px;color:#3a3a3a;letter-spacing:-0.24px;">Medium</div>
<div class="t" style="left:2490.6px;top:1968.1px;font-size:26.50px;line-height:26.50px;color:#3a3a3a;letter-spacing:-0.27px;">Low</div>
<div class="t" style="left:2649.0px;top:1970.1px;font-size:26.50px;line-height:26.50px;color:#3a3a3a;letter-spacing:-0.18px;">Info</div>
<div class="card" style="left:2896.3px;top:1265.8px;width:814.7px;height:782.2px"></div>
<div class="t" style="left:2916.5px;top:1298.3px;font-size:33.50px;line-height:33.50px;font-weight:bold;color:#1c1c1c;letter-spacing:-0.38px;">Findings by category</div>
<div class="t" style="left:2916.5px;top:1351.4px;font-size:26.00px;line-height:26.00px;color:#1f1f1f;letter-spacing:-0.08px;">As of: 2025–03–12</div>
<div class="b" style="left:3652.4px;top:1319.9px;width:39.0px;height:3.0px;background:#555;border-radius:1.500px;"></div>
<div class="b" style="left:3652.4px;top:1331.3px;width:39.0px;height:3.0px;background:#555;border-radius:1.500px;"></div>
<div class="b" style="left:3652.4px;top:1342.7px;width:39.0px;height:3.0px;background:#555;border-radius:1.500px;"></div>
<svg class="b" style="left:2924.1px;top:1474.1px;" width="500.0" height="500.0" viewBox="0 0 500 500"><path d="M250.00 62.00A188 188 0 0 1 340.28 414.90L295.38 332.89A94.5 94.5 0 0 0 250.00 155.50z" fill="#03283f" stroke="#fff" stroke-width="3.600" stroke-linejoin="round"/><path d="M340.28 414.90A188 188 0 0 1 65.45 214.13L157.24 231.97A94.5 94.5 0 0 0 295.38 332.89z" fill="#044e68" stroke="#fff" stroke-width="3.600" stroke-linejoin="round"/><path d="M65.45 214.13A188 188 0 0 1 121.07 113.18L185.19 181.23A94.5 94.5 0 0 0 157.24 231.97z" fill="#07758f" stroke="#fff" stroke-width="3.600" stroke-linejoin="round"/><path d="M121.07 113.18A188 188 0 0 1 195.35 70.12L222.53 159.58A94.5 94.5 0 0 0 185.19 181.23z" fill="#0a9ab3" stroke="#fff" stroke-width="3.600" stroke-linejoin="round"/><path d="M195.35 70.12A188 188 0 0 1 232.31 62.83L241.11 155.92A94.5 94.5 0 0 0 222.53 159.58z" fill="#0bb5d0" stroke="#fff" stroke-width="3.600" stroke-linejoin="round"/><path d="M232.31 62.83A188 188 0 0 1 241.14 62.21L245.55 155.60A94.5 94.5 0 0 0 241.11 155.92z" fill="#25806f" stroke="#fff" stroke-width="3.600" stroke-linejoin="round"/><path d="M241.14 62.21A188 188 0 0 1 250.00 62.00L250.00 155.50A94.5 94.5 0 0 0 245.55 155.60z" fill="#4a9e7c" stroke="#fff" stroke-width="3.600" stroke-linejoin="round"/></svg>
<div class="b" style="left:3424.6px;top:1602.3px;width:24.8px;height:24.8px;background:#03283f;border-radius:50%;"></div>
<div class="t" style="left:3464.1px;top:1606.0px;font-size:21.50px;line-height:21.50px;color:#333;letter-spacing:0.45px;">Certificates</div>
<div class="b" style="left:3424.6px;top:1639.4px;width:24.8px;height:24.8px;background:#044e68;border-radius:50%;"></div>
<div class="t" style="left:3464.1px;top:1643.1px;font-size:21.50px;line-height:21.50px;color:#333;letter-spacing:0.16px;">Best Practice</div>
<div class="b" style="left:3424.6px;top:1675.8px;width:24.8px;height:24.8px;background:#07758f;border-radius:50%;"></div>
<div class="t" style="left:3464.1px;top:1679.5px;font-size:21.50px;line-height:21.50px;color:#333;letter-spacing:0.10px;">Vulnerability</div>
<div class="b" style="left:3424.6px;top:1711.7px;width:24.8px;height:24.8px;background:#0a9ab3;border-radius:50%;"></div>
<div class="t" style="left:3464.1px;top:1715.4px;font-size:21.50px;line-height:21.50px;color:#333;letter-spacing:-0.22px;">Rapid Response</div>
<div class="b" style="left:3424.6px;top:1747.4px;width:24.8px;height:24.8px;background:#0bb5d0;border-radius:50%;"></div>
<div class="t" style="left:3464.1px;top:1751.1px;font-size:21.50px;line-height:21.50px;color:#333;letter-spacing:0.25px;">Open Access</div>
<div class="b" style="left:3424.6px;top:1784.6px;width:24.8px;height:24.8px;background:#25806f;border-radius:50%;"></div>
<div class="t" style="left:3464.1px;top:1788.3px;font-size:21.50px;line-height:21.50px;color:#333;letter-spacing:0.81px;">End-of-Life</div>
<div class="b" style="left:3424.6px;top:1821.6px;width:24.8px;height:24.8px;background:#4a9e7c;border-radius:50%;"></div>
<div class="t" style="left:3464.1px;top:1825.3px;font-size:21.50px;line-height:21.50px;color:#333;letter-spacing:0.41px;">Compliance</div>
</div></div></body></html>
